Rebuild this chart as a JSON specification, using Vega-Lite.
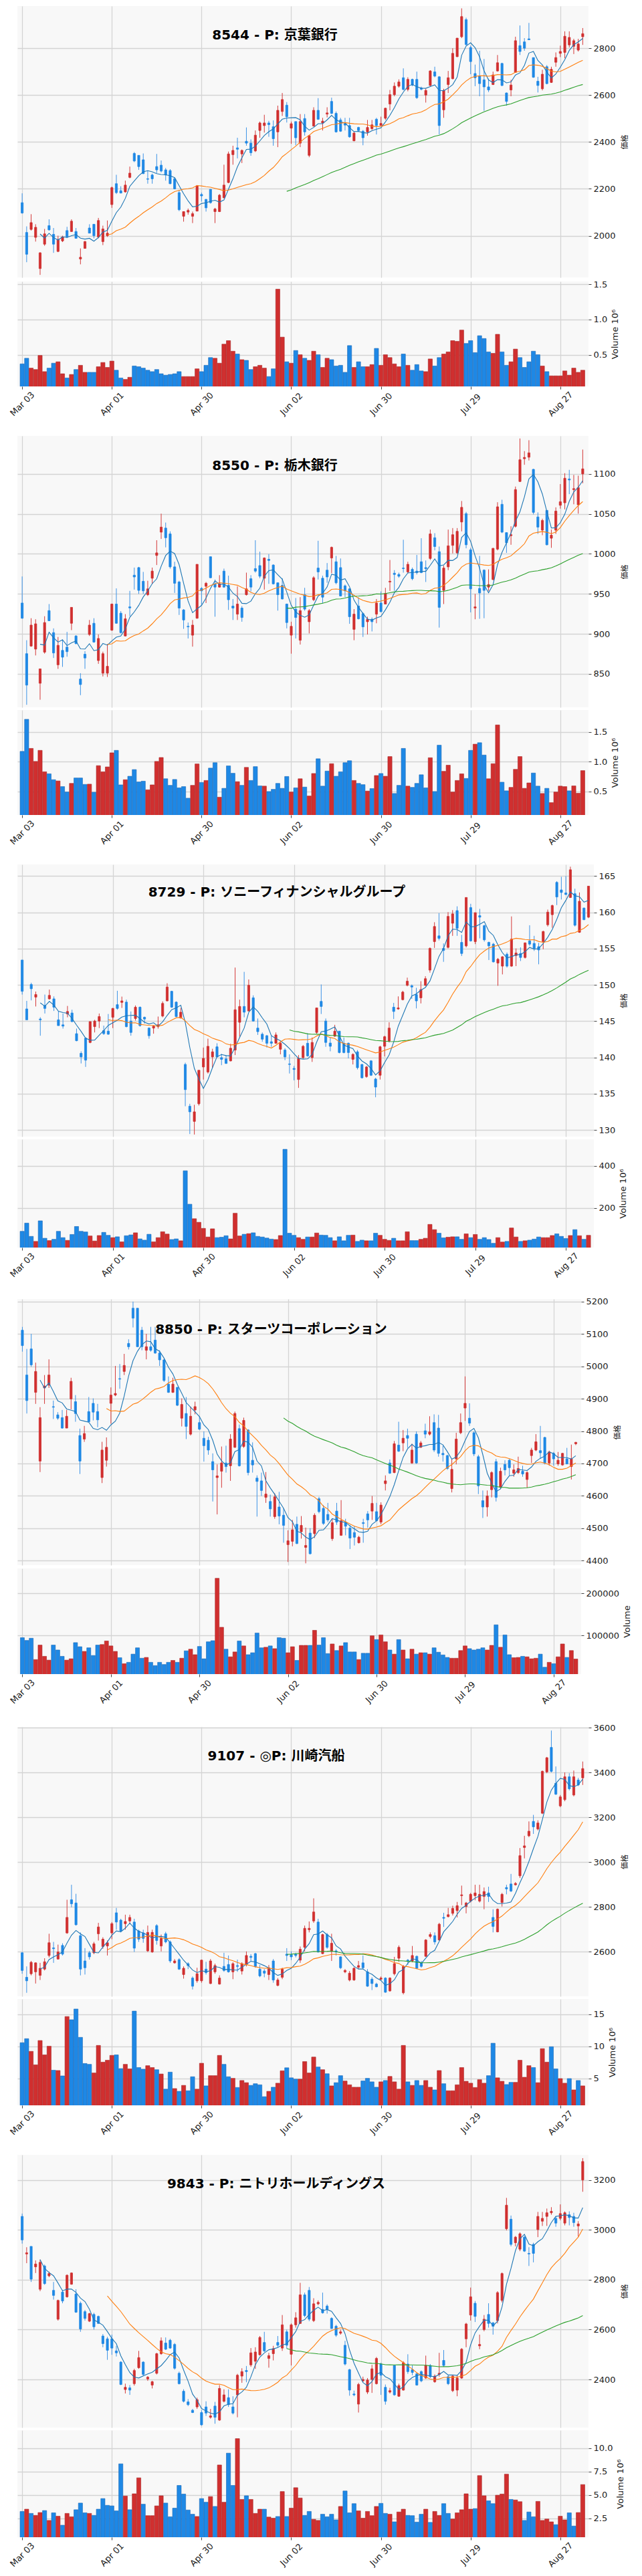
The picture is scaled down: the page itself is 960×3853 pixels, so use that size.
{
"$schema":"https://vega.github.io/schema/vega-lite/v6.json",
"background":"white",
"padding":{"left":12,"top":9,"right":0,"bottom":0},
"spacing":26,
"config":{"view":{"stroke":null,"fill":"#f8f8f8"},"font":"DejaVu Sans",
"axis":{"labelFont":"DejaVu Sans","labelFontSize":13,"labelColor":"#222","gridColor":"#d4d4d4","gridWidth":1.3,"domain":false,"tickColor":"#444","tickSize":4,"labelPadding":3,"titleFontWeight":"normal","titleColor":"#222","titleBaseline":"top"},
"title":{"font":"DejaVu Sans, Noto Sans CJK JP","fontSize":20,"fontWeight":"bold","color":"#000"}},
"datasets":{
"p8544":[
{"i":0,"o":2141,"h":2181,"l":2094,"c":2097,"v":0.37},{"i":1,"o":2014,"h":2040,"l":1887,"c":1921,"v":0.45},{"i":2,"o":2027,"h":2092,"l":2022,"c":2056,"v":0.31},{"i":3,"o":1993,"h":2049,"l":1975,"c":2036,"v":0.29},{"i":4,"o":1860,"h":1930,"l":1833,"c":1927,"v":0.49},{"i":5,"o":1964,"h":2029,"l":1957,"c":2008,"v":0.26},{"i":6,"o":2043,"h":2070,"l":2022,"c":2025,"v":0.31},{"i":7,"o":2006,"h":2033,"l":1927,"c":1964,"v":0.38},{"i":8,"o":1933,"h":2000,"l":1930,"c":1984,"v":0.40},{"i":9,"o":1978,"h":2000,"l":1973,"c":1995,"v":0.23},
{"i":10,"o":2022,"h":2038,"l":1990,"c":1995,"v":0.17},{"i":11,"o":2018,"h":2070,"l":2016,"c":2062,"v":0.22},{"i":12,"o":2018,"h":2033,"l":1989,"c":1989,"v":0.29},{"i":13,"o":1901,"h":1946,"l":1878,"c":1908,"v":0.35},{"i":14,"o":1946,"h":1978,"l":1946,"c":1975,"v":0.25},{"i":15,"o":2033,"h":2049,"l":2011,"c":2011,"v":0.25},{"i":16,"o":2049,"h":2049,"l":1989,"c":2000,"v":0.25},{"i":17,"o":1995,"h":2076,"l":1989,"c":2065,"v":0.33},{"i":18,"o":1975,"h":2043,"l":1960,"c":2029,"v":0.39},{"i":19,"o":2000,"h":2065,"l":1995,"c":2011,"v":0.32},
{"i":20,"o":2133,"h":2210,"l":2119,"c":2205,"v":0.41},{"i":21,"o":2222,"h":2260,"l":2178,"c":2184,"v":0.28},{"i":22,"o":2192,"h":2211,"l":2181,"c":2182,"v":0.17},{"i":23,"o":2187,"h":2235,"l":2184,"c":2216,"v":0.15},{"i":24,"o":2249,"h":2295,"l":2245,"c":2267,"v":0.18},{"i":25,"o":2351,"h":2357,"l":2314,"c":2319,"v":0.34},{"i":26,"o":2343,"h":2343,"l":2281,"c":2295,"v":0.33},{"i":27,"o":2324,"h":2351,"l":2263,"c":2265,"v":0.31},{"i":28,"o":2243,"h":2276,"l":2222,"c":2241,"v":0.28},{"i":29,"o":2259,"h":2265,"l":2222,"c":2243,"v":0.26},
{"i":30,"o":2295,"h":2349,"l":2267,"c":2281,"v":0.29},{"i":31,"o":2301,"h":2321,"l":2270,"c":2276,"v":0.23},{"i":32,"o":2281,"h":2289,"l":2235,"c":2259,"v":0.21},{"i":33,"o":2278,"h":2284,"l":2220,"c":2222,"v":0.22},{"i":34,"o":2243,"h":2249,"l":2198,"c":2200,"v":0.23},{"i":35,"o":2184,"h":2195,"l":2105,"c":2111,"v":0.26},{"i":36,"o":2083,"h":2103,"l":2060,"c":2103,"v":0.19},{"i":37,"o":2101,"h":2116,"l":2090,"c":2108,"v":0.19},{"i":38,"o":2083,"h":2103,"l":2054,"c":2094,"v":0.19},{"i":39,"o":2105,"h":2216,"l":2105,"c":2213,"v":0.30},
{"i":40,"o":2176,"h":2184,"l":2146,"c":2170,"v":0.26},{"i":41,"o":2155,"h":2157,"l":2103,"c":2119,"v":0.35},{"i":42,"o":2198,"h":2198,"l":2137,"c":2141,"v":0.46},{"i":43,"o":2103,"h":2119,"l":2054,"c":2114,"v":0.45},{"i":44,"o":2103,"h":2178,"l":2101,"c":2173,"v":0.38},{"i":45,"o":2162,"h":2303,"l":2159,"c":2216,"v":0.65},{"i":46,"o":2227,"h":2359,"l":2224,"c":2349,"v":0.70},{"i":47,"o":2346,"h":2384,"l":2303,"c":2364,"v":0.55},{"i":48,"o":2375,"h":2418,"l":2330,"c":2369,"v":0.51},{"i":49,"o":2349,"h":2368,"l":2310,"c":2364,"v":0.43},
{"i":50,"o":2403,"h":2462,"l":2384,"c":2395,"v":0.42},{"i":51,"o":2395,"h":2411,"l":2341,"c":2354,"v":0.29},{"i":52,"o":2362,"h":2449,"l":2357,"c":2429,"v":0.33},{"i":53,"o":2449,"h":2487,"l":2418,"c":2481,"v":0.35},{"i":54,"o":2470,"h":2516,"l":2440,"c":2481,"v":0.31},{"i":55,"o":2481,"h":2490,"l":2422,"c":2474,"v":0.19},{"i":56,"o":2465,"h":2492,"l":2384,"c":2414,"v":0.30},{"i":57,"o":2443,"h":2555,"l":2378,"c":2535,"v":1.43},{"i":58,"o":2530,"h":2609,"l":2511,"c":2581,"v":0.75},{"i":59,"o":2557,"h":2570,"l":2483,"c":2508,"v":0.40},
{"i":60,"o":2459,"h":2487,"l":2392,"c":2478,"v":0.38},{"i":61,"o":2487,"h":2487,"l":2386,"c":2418,"v":0.56},{"i":62,"o":2395,"h":2519,"l":2378,"c":2487,"v":0.50},{"i":63,"o":2500,"h":2519,"l":2427,"c":2443,"v":0.45},{"i":64,"o":2343,"h":2430,"l":2335,"c":2427,"v":0.42},{"i":65,"o":2468,"h":2548,"l":2465,"c":2535,"v":0.55},{"i":66,"o":2535,"h":2587,"l":2494,"c":2497,"v":0.50},{"i":67,"o":2481,"h":2503,"l":2449,"c":2489,"v":0.32},{"i":68,"o":2519,"h":2548,"l":2505,"c":2524,"v":0.45},{"i":69,"o":2573,"h":2589,"l":2519,"c":2522,"v":0.43},
{"i":70,"o":2522,"h":2530,"l":2440,"c":2443,"v":0.34},{"i":71,"o":2494,"h":2503,"l":2443,"c":2446,"v":0.35},{"i":72,"o":2479,"h":2503,"l":2449,"c":2472,"v":0.25},{"i":73,"o":2470,"h":2503,"l":2418,"c":2422,"v":0.63},{"i":74,"o":2405,"h":2443,"l":2403,"c":2438,"v":0.32},{"i":75,"o":2462,"h":2465,"l":2443,"c":2449,"v":0.40},{"i":76,"o":2446,"h":2451,"l":2386,"c":2418,"v":0.33},{"i":77,"o":2443,"h":2494,"l":2427,"c":2462,"v":0.33},{"i":78,"o":2457,"h":2494,"l":2451,"c":2473,"v":0.36},{"i":79,"o":2497,"h":2503,"l":2432,"c":2470,"v":0.59},
{"i":80,"o":2470,"h":2508,"l":2470,"c":2479,"v":0.35},{"i":81,"o":2501,"h":2546,"l":2494,"c":2544,"v":0.50},{"i":82,"o":2562,"h":2622,"l":2535,"c":2602,"v":0.46},{"i":83,"o":2602,"h":2654,"l":2595,"c":2638,"v":0.37},{"i":84,"o":2638,"h":2667,"l":2632,"c":2656,"v":0.33},{"i":85,"o":2674,"h":2714,"l":2620,"c":2624,"v":0.51},{"i":86,"o":2624,"h":2676,"l":2616,"c":2667,"v":0.35},{"i":87,"o":2667,"h":2670,"l":2638,"c":2643,"v":0.28},{"i":88,"o":2667,"h":2700,"l":2584,"c":2589,"v":0.36},{"i":89,"o":2630,"h":2636,"l":2620,"c":2625,"v":0.27},
{"i":90,"o":2600,"h":2627,"l":2568,"c":2620,"v":0.26},{"i":91,"o":2641,"h":2706,"l":2638,"c":2703,"v":0.44},{"i":92,"o":2699,"h":2721,"l":2676,"c":2681,"v":0.34},{"i":93,"o":2678,"h":2681,"l":2432,"c":2470,"v":0.46},{"i":94,"o":2537,"h":2627,"l":2503,"c":2620,"v":0.51},{"i":95,"o":2645,"h":2703,"l":2609,"c":2674,"v":0.54},{"i":96,"o":2670,"h":2800,"l":2667,"c":2778,"v":0.70},{"i":97,"o":2764,"h":2843,"l":2762,"c":2843,"v":0.69},{"i":98,"o":2849,"h":2970,"l":2843,"c":2935,"v":0.85},{"i":99,"o":2922,"h":2930,"l":2811,"c":2816,"v":0.66},
{"i":100,"o":2803,"h":2811,"l":2689,"c":2743,"v":0.70},{"i":101,"o":2692,"h":2730,"l":2638,"c":2674,"v":0.53},{"i":102,"o":2681,"h":2789,"l":2595,"c":2649,"v":0.77},{"i":103,"o":2665,"h":2754,"l":2533,"c":2635,"v":0.73},{"i":104,"o":2635,"h":2670,"l":2613,"c":2622,"v":0.54},{"i":105,"o":2645,"h":2700,"l":2643,"c":2686,"v":0.52},{"i":106,"o":2703,"h":2771,"l":2700,"c":2738,"v":0.79},{"i":107,"o":2735,"h":2738,"l":2638,"c":2641,"v":0.54},{"i":108,"o":2609,"h":2611,"l":2555,"c":2573,"v":0.35},{"i":109,"o":2622,"h":2665,"l":2595,"c":2643,"v":0.40},
{"i":110,"o":2697,"h":2849,"l":2695,"c":2832,"v":0.58},{"i":111,"o":2811,"h":2897,"l":2771,"c":2786,"v":0.46},{"i":112,"o":2827,"h":2843,"l":2789,"c":2800,"v":0.32},{"i":113,"o":2840,"h":2908,"l":2835,"c":2836,"v":0.40},{"i":114,"o":2760,"h":2760,"l":2674,"c":2676,"v":0.55},{"i":115,"o":2659,"h":2678,"l":2611,"c":2641,"v":0.50},{"i":116,"o":2627,"h":2708,"l":2620,"c":2689,"v":0.34},{"i":117,"o":2721,"h":2728,"l":2646,"c":2649,"v":0.26},{"i":118,"o":2654,"h":2721,"l":2652,"c":2710,"v":0.20},{"i":119,"o":2740,"h":2782,"l":2721,"c":2760,"v":0.20},
{"i":120,"o":2778,"h":2811,"l":2762,"c":2786,"v":0.20},{"i":121,"o":2782,"h":2872,"l":2757,"c":2851,"v":0.27},{"i":122,"o":2814,"h":2872,"l":2803,"c":2846,"v":0.21},{"i":123,"o":2808,"h":2840,"l":2775,"c":2832,"v":0.31},{"i":124,"o":2792,"h":2840,"l":2786,"c":2818,"v":0.25},{"i":125,"o":2849,"h":2886,"l":2814,"c":2862,"v":0.28}
],
"p8550":[
{"i":0,"o":938.6,"h":971.8,"l":919,"c":919.6,"v":1.175},{"i":1,"o":875.3,"h":892.1,"l":811.4,"c":836.0,"v":1.714},{"i":2,"o":884.8,"h":919.6,"l":884,"c":911.0,"v":1.225},{"i":3,"o":881.0,"h":918.3,"l":873.1,"c":912.6,"v":1.006},{"i":4,"o":838.3,"h":856.3,"l":817.7,"c":856.3,"v":1.192},{"i":5,"o":877.2,"h":922.1,"l":875.3,"c":914.2,"v":0.832},{"i":6,"o":929.1,"h":937.3,"l":916,"c":916.4,"v":0.798},{"i":7,"o":901.6,"h":906.9,"l":869.9,"c":876.2,"v":0.699},{"i":8,"o":861.4,"h":896.2,"l":856.3,"c":885.7,"v":0.678},{"i":9,"o":879.4,"h":893.0,"l":858.8,"c":870.9,"v":0.583},
{"i":10,"o":883.5,"h":902.5,"l":871.5,"c":877.8,"v":0.492},{"i":11,"o":913.3,"h":933.2,"l":904.7,"c":933.2,"v":0.637},{"i":12,"o":897.4,"h":898.4,"l":887,"c":887.9,"v":0.728},{"i":13,"o":843.6,"h":850.9,"l":823.4,"c":836.7,"v":0.728},{"i":14,"o":874.6,"h":878.4,"l":856.3,"c":869.9,"v":0.620},{"i":15,"o":899.3,"h":917.4,"l":897.4,"c":911.0,"v":0.624},{"i":16,"o":913.3,"h":919.6,"l":889,"c":889.8,"v":0.488},{"i":17,"o":866.7,"h":899.3,"l":862.6,"c":894.3,"v":0.935},{"i":18,"o":850.9,"h":877.8,"l":846.8,"c":875.3,"v":0.832},{"i":19,"o":850.9,"h":887.3,"l":846.2,"c":859.5,"v":0.914},
{"i":20,"o":904.7,"h":937.9,"l":903.8,"c":937.3,"v":1.151},{"i":21,"o":937.3,"h":956.9,"l":912.6,"c":913.3,"v":1.192},{"i":22,"o":925.9,"h":928.5,"l":900.6,"c":901.6,"v":0.612},{"i":23,"o":897.4,"h":924.7,"l":897,"c":918.9,"v":0.699},{"i":24,"o":933.8,"h":953.8,"l":922.1,"c":932.5,"v":0.757},{"i":25,"o":973.4,"h":982.9,"l":955.4,"c":971.2,"v":0.869},{"i":26,"o":982.9,"h":983.8,"l":950,"c":954.4,"v":0.662},{"i":27,"o":965.8,"h":977.5,"l":950,"c":953.8,"v":0.674},{"i":28,"o":949.0,"h":966.4,"l":947.4,"c":956.3,"v":0.529},{"i":29,"o":969.6,"h":982.9,"l":962.6,"c":978.5,"v":0.612},
{"i":30,"o":998.1,"h":1017.1,"l":986.1,"c":1001.3,"v":1.006},{"i":31,"o":1027.2,"h":1050.3,"l":1018.7,"c":1033.5,"v":1.072},{"i":32,"o":1032.3,"h":1039.2,"l":1008.2,"c":1020.2,"v":0.715},{"i":33,"o":1025.0,"h":1028.2,"l":981.6,"c":983.8,"v":0.604},{"i":34,"o":983.8,"h":990.2,"l":951.2,"c":963.3,"v":0.703},{"i":35,"o":964.9,"h":966.4,"l":923.7,"c":932.3,"v":0.562},{"i":36,"o":930.0,"h":931.0,"l":906.3,"c":917.4,"v":0.583},{"i":37,"o":909.5,"h":914.2,"l":894.3,"c":908.8,"v":0.388},{"i":38,"o":898.4,"h":917.4,"l":884.1,"c":911.0,"v":0.604},{"i":39,"o":919.6,"h":987.0,"l":919,"c":987.0,"v":0.964},
{"i":40,"o":956.9,"h":958.5,"l":936.4,"c":953.8,"v":0.653},{"i":41,"o":959.5,"h":964.9,"l":938.6,"c":963.3,"v":0.686},{"i":42,"o":996.5,"h":996.5,"l":969.6,"c":970.2,"v":0.894},{"i":43,"o":962.6,"h":968.0,"l":921.5,"c":958.5,"v":0.985},{"i":44,"o":958.5,"h":973.4,"l":958,"c":962.6,"v":0.405},{"i":45,"o":978.5,"h":981.6,"l":957.6,"c":958.5,"v":0.554},{"i":46,"o":960.7,"h":972.8,"l":930.0,"c":942.7,"v":0.931},{"i":47,"o":934.8,"h":943.6,"l":917.4,"c":932.3,"v":0.807},{"i":48,"o":924.7,"h":959.5,"l":917.4,"c":937.3,"v":0.666},{"i":49,"o":932.3,"h":934.8,"l":915.2,"c":920.5,"v":0.604},
{"i":50,"o":949.0,"h":976.6,"l":948,"c":956.3,"v":0.906},{"i":51,"o":969.0,"h":973.4,"l":953.1,"c":958.5,"v":0.686},{"i":52,"o":981.6,"h":1017.1,"l":976.6,"c":978.5,"v":0.919},{"i":53,"o":985.4,"h":1002.8,"l":969.6,"c":972.1,"v":0.595},{"i":54,"o":969.6,"h":995.6,"l":955.4,"c":994.9,"v":0.591},{"i":55,"o":993.3,"h":999.7,"l":962.6,"c":991.8,"v":0.500},{"i":56,"o":986.1,"h":987.0,"l":961.7,"c":962.6,"v":0.537},{"i":57,"o":963.9,"h":964,"l":929.1,"c":949.0,"v":0.637},{"i":58,"o":960.7,"h":969.6,"l":943,"c":943.7,"v":0.554},{"i":59,"o":937.3,"h":937.9,"l":906.9,"c":914.2,"v":0.753},
{"i":60,"o":898.4,"h":915.2,"l":875.3,"c":909.5,"v":0.492},{"i":61,"o":931.0,"h":944.9,"l":894.3,"c":920.5,"v":0.562},{"i":62,"o":892.1,"h":945.9,"l":886.7,"c":929.1,"v":0.715},{"i":63,"o":949.0,"h":957.6,"l":929,"c":931.0,"v":0.575},{"i":64,"o":915.2,"h":931.0,"l":900.6,"c":929.1,"v":0.425},{"i":65,"o":942.7,"h":972.1,"l":941,"c":970.2,"v":0.803},{"i":66,"o":982.3,"h":1016.4,"l":968.0,"c":977.5,"v":1.051},{"i":67,"o":969.6,"h":972.8,"l":938.0,"c":945.9,"v":0.591},{"i":68,"o":979.7,"h":988.6,"l":963.9,"c":971.2,"v":0.844},{"i":69,"o":994.9,"h":1009.2,"l":975.9,"c":1008.2,"v":0.968},
{"i":70,"o":990.2,"h":997.5,"l":962,"c":963.9,"v":0.757},{"i":71,"o":982.9,"h":994.3,"l":946.8,"c":947.4,"v":0.832},{"i":72,"o":960.1,"h":961.7,"l":945.9,"c":953.8,"v":0.985},{"i":73,"o":956.3,"h":956.9,"l":912.6,"c":921.5,"v":1.018},{"i":74,"o":905.7,"h":931.0,"l":892.1,"c":924.7,"v":0.686},{"i":75,"o":934.8,"h":945.9,"l":918,"c":918.9,"v":0.637},{"i":76,"o":925.3,"h":926.9,"l":896.2,"c":908.8,"v":0.616},{"i":77,"o":915.2,"h":921.5,"l":899.3,"c":918.3,"v":0.508},{"i":78,"o":918.3,"h":920.5,"l":903.1,"c":915.2,"v":0.550},{"i":79,"o":924.7,"h":943.6,"l":913.3,"c":938.6,"v":0.769},
{"i":80,"o":938.6,"h":953.1,"l":927,"c":927.8,"v":0.803},{"i":81,"o":937.3,"h":957.6,"l":937,"c":950.6,"v":0.757},{"i":82,"o":964.9,"h":992.4,"l":953.8,"c":965.8,"v":1.088},{"i":83,"o":975.9,"h":979.7,"l":953.8,"c":974.3,"v":0.467},{"i":84,"o":974.3,"h":976.6,"l":970.2,"c":972.1,"v":0.604},{"i":85,"o":982.3,"h":1017.7,"l":976.6,"c":981.6,"v":1.225},{"i":86,"o":977.5,"h":990.2,"l":975.9,"c":987.0,"v":0.591},{"i":87,"o":980.7,"h":982.9,"l":967.1,"c":969.0,"v":0.570},{"i":88,"o":978.5,"h":998.7,"l":974.3,"c":976.6,"v":0.637},{"i":89,"o":990.2,"h":1019.6,"l":975.9,"c":976.6,"v":0.782},
{"i":90,"o":982.9,"h":991.8,"l":964.9,"c":981.6,"v":0.562},{"i":91,"o":994.3,"h":1030.4,"l":992.4,"c":1025.0,"v":1.068},{"i":92,"o":1020.2,"h":1025.9,"l":1004.4,"c":1009.2,"v":0.500},{"i":93,"o":1002.8,"h":1009.2,"l":907.9,"c":933.2,"v":1.279},{"i":94,"o":954.4,"h":985.4,"l":937.3,"c":982.3,"v":0.840},{"i":95,"o":983.8,"h":1030.4,"l":979.7,"c":1010.1,"v":0.943},{"i":96,"o":1010.7,"h":1032.3,"l":1000.6,"c":1024.0,"v":0.492},{"i":97,"o":1001.3,"h":1032.3,"l":1000,"c":1028.2,"v":0.686},{"i":98,"o":1039.9,"h":1066.1,"l":1028.2,"c":1058.2,"v":0.798},{"i":99,"o":1050.3,"h":1052.5,"l":1007.0,"c":1011.4,"v":0.720},
{"i":100,"o":1005.1,"h":1007.6,"l":926.9,"c":956.3,"v":1.192},{"i":101,"o":932.3,"h":950.0,"l":918.3,"c":933.8,"v":1.296},{"i":102,"o":956.9,"h":997.5,"l":918.9,"c":951.2,"v":1.321},{"i":103,"o":979.7,"h":980.7,"l":919.6,"c":954.4,"v":1.113},{"i":104,"o":958.5,"h":980.7,"l":953.8,"c":961.7,"v":0.715},{"i":105,"o":968.0,"h":1007.6,"l":967,"c":1006.9,"v":0.968},{"i":106,"o":1006.0,"h":1064.6,"l":1004.4,"c":1058.9,"v":1.619},{"i":107,"o":1062.0,"h":1067.7,"l":1026,"c":1027.2,"v":0.657},{"i":108,"o":1026.6,"h":1027,"l":1001.3,"c":1013.9,"v":0.512},{"i":109,"o":1022.8,"h":1034.5,"l":1011.4,"c":1024.0,"v":0.570},
{"i":110,"o":1034.5,"h":1084.2,"l":1033,"c":1080.4,"v":0.873},{"i":111,"o":1090.5,"h":1144.3,"l":1089.9,"c":1117.7,"v":1.088},{"i":112,"o":1119.0,"h":1128.5,"l":1111.4,"c":1120.6,"v":0.554},{"i":113,"o":1120.9,"h":1142.1,"l":1116.8,"c":1126.3,"v":0.645},{"i":114,"o":1105.7,"h":1106.3,"l":1049.4,"c":1051.9,"v":0.811},{"i":115,"o":1046.2,"h":1051.9,"l":1025.0,"c":1033.5,"v":0.591},{"i":116,"o":1029.7,"h":1044.0,"l":1023.4,"c":1041.8,"v":0.467},{"i":117,"o":1054.4,"h":1054.4,"l":1010.7,"c":1011.4,"v":0.554},{"i":118,"o":1019.6,"h":1030.4,"l":1007.6,"c":1023.4,"v":0.314},{"i":119,"o":1029.7,"h":1058.2,"l":1025.0,"c":1053.5,"v":0.492},
{"i":120,"o":1060.8,"h":1087.3,"l":1056.6,"c":1065.2,"v":0.591},{"i":121,"o":1063.9,"h":1100.9,"l":1055.7,"c":1094.6,"v":0.583},{"i":122,"o":1093.7,"h":1105.1,"l":1074.7,"c":1092.4,"v":0.512},{"i":123,"o":1080.4,"h":1098.7,"l":1062.0,"c":1081.6,"v":0.595},{"i":124,"o":1061.4,"h":1097.8,"l":1050.3,"c":1082.9,"v":0.471},{"i":125,"o":1100.0,"h":1130.4,"l":1088.3,"c":1106.3,"v":0.852}
],
"p8729":[
{"i":0,"o":153.43,"h":153.43,"l":148.67,"c":149.12,"v":88},{"i":1,"o":146.69,"h":147.80,"l":145.19,"c":145.19,"v":127},{"i":2,"o":150.06,"h":150.30,"l":147.87,"c":149.47,"v":64},{"i":3,"o":148.32,"h":149.08,"l":147.03,"c":148.67,"v":40},{"i":4,"o":145.30,"h":145.54,"l":143.00,"c":145.19,"v":138},{"i":5,"o":147.17,"h":148.67,"l":146.06,"c":146.76,"v":55},{"i":6,"o":148.08,"h":149.36,"l":147.97,"c":148.56,"v":44},{"i":7,"o":148.08,"h":148.42,"l":146.41,"c":146.93,"v":50},{"i":8,"o":145.19,"h":146.34,"l":144.39,"c":144.39,"v":88},{"i":9,"o":144.50,"h":146.06,"l":143.98,"c":144.32,"v":58},
{"i":10,"o":145.99,"h":147.10,"l":145.54,"c":146.34,"v":45},{"i":11,"o":146.13,"h":146.58,"l":144.85,"c":144.95,"v":73},{"i":12,"o":143.28,"h":143.98,"l":142.24,"c":142.31,"v":111},{"i":13,"o":140.57,"h":140.85,"l":139.18,"c":140.08,"v":88},{"i":14,"o":142.66,"h":142.76,"l":138.70,"c":139.63,"v":85},{"i":15,"o":142.07,"h":144.95,"l":141.96,"c":144.95,"v":66},{"i":16,"o":144.25,"h":145.19,"l":143.45,"c":145.02,"v":42},{"i":17,"o":145.02,"h":146.06,"l":144.05,"c":145.64,"v":68},{"i":18,"o":143.70,"h":144.39,"l":143.11,"c":143.28,"v":83},{"i":19,"o":143.63,"h":145.99,"l":143.11,"c":143.21,"v":69},
{"i":20,"o":145.54,"h":146.83,"l":144.05,"c":146.76,"v":58},{"i":21,"o":147.28,"h":149.19,"l":146.58,"c":146.76,"v":62},{"i":22,"o":147.59,"h":148.39,"l":146.83,"c":147.80,"v":38},{"i":23,"o":147.63,"h":147.97,"l":144.15,"c":144.25,"v":67},{"i":24,"o":145.02,"h":146.34,"l":143.00,"c":143.45,"v":71},{"i":25,"o":145.37,"h":147.17,"l":145.09,"c":146.93,"v":81},{"i":26,"o":146.93,"h":147.03,"l":144.25,"c":144.39,"v":52},{"i":27,"o":145.54,"h":145.64,"l":144.67,"c":145.30,"v":46},{"i":28,"o":144.05,"h":144.15,"l":142.59,"c":143.00,"v":74},{"i":29,"o":144.05,"h":144.39,"l":143.28,"c":144.32,"v":38},
{"i":30,"o":144.25,"h":145.64,"l":143.98,"c":144.50,"v":58},{"i":31,"o":145.71,"h":147.73,"l":145.54,"c":147.45,"v":86},{"i":32,"o":147.80,"h":150.23,"l":147.73,"c":149.71,"v":75},{"i":33,"o":149.12,"h":149.19,"l":146.83,"c":146.93,"v":49},{"i":34,"o":147.63,"h":147.73,"l":145.54,"c":145.64,"v":52},{"i":35,"o":145.44,"h":146.83,"l":145.37,"c":146.24,"v":43},{"i":36,"o":139.04,"h":139.28,"l":133.28,"c":135.57,"v":376},{"i":37,"o":133.28,"h":133.62,"l":129.45,"c":132.51,"v":217},{"i":38,"o":131.19,"h":133.48,"l":129.38,"c":132.51,"v":148},{"i":39,"o":133.62,"h":138.24,"l":133.38,"c":138.24,"v":131},
{"i":40,"o":138.69,"h":141.37,"l":136.96,"c":139.88,"v":102},{"i":41,"o":138.00,"h":142.59,"l":137.79,"c":141.54,"v":61},{"i":42,"o":140.08,"h":141.20,"l":138.59,"c":140.78,"v":100},{"i":43,"o":141.47,"h":141.96,"l":140.00,"c":140.08,"v":58},{"i":44,"o":139.98,"h":140.50,"l":138.94,"c":139.74,"v":60},{"i":45,"o":139.81,"h":140.33,"l":139.11,"c":139.18,"v":67},{"i":46,"o":139.53,"h":141.89,"l":139.46,"c":141.27,"v":52},{"i":47,"o":141.02,"h":152.39,"l":140.33,"c":146.58,"v":174},{"i":48,"o":144.85,"h":147.97,"l":142.86,"c":147.03,"v":66},{"i":49,"o":147.03,"h":151.80,"l":145.54,"c":146.24,"v":74},
{"i":50,"o":146.41,"h":150.75,"l":146.34,"c":149.95,"v":77},{"i":51,"o":148.22,"h":148.56,"l":144.95,"c":145.02,"v":81},{"i":52,"o":144.05,"h":145.37,"l":143.11,"c":143.56,"v":64},{"i":53,"o":143.21,"h":143.45,"l":142.17,"c":142.52,"v":61},{"i":54,"o":143.00,"h":143.11,"l":141.37,"c":141.96,"v":56},{"i":55,"o":142.17,"h":143.00,"l":141.47,"c":141.96,"v":51},{"i":56,"o":141.96,"h":143.45,"l":141.89,"c":143.11,"v":49},{"i":57,"o":141.13,"h":142.24,"l":140.43,"c":141.96,"v":68},{"i":58,"o":141.02,"h":141.27,"l":139.63,"c":140.08,"v":478},{"i":59,"o":139.11,"h":140.43,"l":137.79,"c":139.04,"v":79},
{"i":60,"o":138.49,"h":138.83,"l":136.85,"c":138.35,"v":69},{"i":61,"o":136.96,"h":140.33,"l":135.81,"c":139.88,"v":58},{"i":62,"o":139.98,"h":141.72,"l":139.80,"c":141.54,"v":50},{"i":63,"o":141.96,"h":143.35,"l":140.10,"c":140.22,"v":61},{"i":64,"o":139.98,"h":142.76,"l":139.39,"c":142.07,"v":61},{"i":65,"o":143.45,"h":146.83,"l":143.28,"c":146.83,"v":80},{"i":66,"o":147.73,"h":150.06,"l":145.99,"c":147.03,"v":70},{"i":67,"o":145.02,"h":145.37,"l":141.47,"c":142.07,"v":69},{"i":68,"o":141.99,"h":142.76,"l":140.85,"c":141.54,"v":58},{"i":69,"o":142.93,"h":144.50,"l":142.86,"c":143.63,"v":43},
{"i":70,"o":143.63,"h":143.63,"l":140.57,"c":140.68,"v":62},{"i":71,"o":141.96,"h":142.76,"l":140.57,"c":140.68,"v":43},{"i":72,"o":141.96,"h":142.07,"l":139.88,"c":140.68,"v":69},{"i":73,"o":139.74,"h":140.57,"l":139.04,"c":140.43,"v":70},{"i":74,"o":140.78,"h":141.02,"l":138.35,"c":138.59,"v":40},{"i":75,"o":139.04,"h":139.11,"l":137.10,"c":137.20,"v":46},{"i":76,"o":137.37,"h":138.83,"l":137.20,"c":138.69,"v":43},{"i":77,"o":139.53,"h":139.63,"l":137.45,"c":137.55,"v":43},{"i":78,"o":137.03,"h":137.20,"l":134.52,"c":135.92,"v":79},{"i":79,"o":137.55,"h":141.61,"l":136.96,"c":141.47,"v":69},
{"i":80,"o":141.54,"h":143.00,"l":140.15,"c":142.86,"v":50},{"i":81,"o":142.24,"h":144.85,"l":142.07,"c":144.05,"v":45},{"i":82,"o":146.93,"h":147.52,"l":145.30,"c":146.34,"v":55},{"i":83,"o":146.69,"h":148.42,"l":146.58,"c":146.83,"v":43},{"i":84,"o":147.97,"h":149.19,"l":147.87,"c":149.01,"v":43},{"i":85,"o":149.95,"h":151.00,"l":149.81,"c":150.51,"v":86},{"i":86,"o":149.88,"h":150.06,"l":148.08,"c":149.71,"v":44},{"i":87,"o":148.67,"h":149.60,"l":146.76,"c":147.80,"v":44},{"i":88,"o":148.22,"h":150.51,"l":147.45,"c":149.36,"v":50},{"i":89,"o":149.95,"h":151.20,"l":149.81,"c":150.86,"v":55},
{"i":90,"o":152.04,"h":155.17,"l":151.69,"c":155.03,"v":121},{"i":91,"o":155.97,"h":158.64,"l":155.10,"c":158.05,"v":96},{"i":92,"o":156.76,"h":159.89,"l":156.14,"c":156.42,"v":79},{"i":93,"o":155.03,"h":155.72,"l":153.18,"c":154.75,"v":57},{"i":94,"o":155.17,"h":160.03,"l":155.03,"c":159.44,"v":60},{"i":95,"o":158.50,"h":160.31,"l":156.76,"c":159.79,"v":62},{"i":96,"o":160.24,"h":160.83,"l":156.76,"c":157.81,"v":62},{"i":97,"o":155.86,"h":156.90,"l":153.98,"c":154.33,"v":50},{"i":98,"o":155.38,"h":162.05,"l":155.17,"c":162.05,"v":76},{"i":99,"o":160.66,"h":161.18,"l":155.97,"c":156.07,"v":58},
{"i":100,"o":155.97,"h":159.96,"l":155.62,"c":159.96,"v":73},{"i":101,"o":159.54,"h":160.48,"l":156.42,"c":159.34,"v":50},{"i":102,"o":158.16,"h":158.29,"l":155.97,"c":156.21,"v":58},{"i":103,"o":155.86,"h":155.97,"l":153.43,"c":155.38,"v":49},{"i":104,"o":155.62,"h":155.79,"l":153.08,"c":153.18,"v":31},{"i":105,"o":153.01,"h":153.71,"l":149.88,"c":153.53,"v":58},{"i":106,"o":152.59,"h":153.95,"l":151.45,"c":153.88,"v":37},{"i":107,"o":154.23,"h":154.47,"l":152.39,"c":152.59,"v":40},{"i":108,"o":152.59,"h":159.44,"l":152.49,"c":156.31,"v":104},{"i":109,"o":154.05,"h":155.03,"l":152.59,"c":154.40,"v":61},
{"i":110,"o":154.33,"h":155.17,"l":153.29,"c":153.78,"v":40},{"i":111,"o":153.78,"h":155.86,"l":153.64,"c":155.79,"v":43},{"i":112,"o":156.07,"h":158.22,"l":155.38,"c":155.62,"v":46},{"i":113,"o":155.72,"h":156.76,"l":154.68,"c":155.03,"v":51},{"i":114,"o":155.27,"h":155.79,"l":152.84,"c":154.82,"v":61},{"i":115,"o":155.97,"h":157.46,"l":154.92,"c":157.36,"v":58},{"i":116,"o":158.29,"h":160.38,"l":158.05,"c":160.03,"v":58},{"i":117,"o":159.68,"h":161.07,"l":157.88,"c":160.93,"v":68},{"i":118,"o":164.13,"h":164.30,"l":161.00,"c":162.12,"v":76},{"i":119,"o":163.09,"h":164.90,"l":161.77,"c":162.74,"v":64},
{"i":120,"o":162.67,"h":165.00,"l":162.39,"c":162.46,"v":54},{"i":121,"o":162.05,"h":166.29,"l":161.98,"c":165.87,"v":68},{"i":122,"o":162.57,"h":163.26,"l":158.05,"c":158.22,"v":96},{"i":123,"o":157.25,"h":162.74,"l":157.18,"c":161.53,"v":67},{"i":124,"o":160.59,"h":160.66,"l":158.92,"c":158.99,"v":50},{"i":125,"o":159.34,"h":163.61,"l":159.20,"c":163.61,"v":69}
],
"p8850":[
{"i":0,"o":5111.7,"h":5121.9,"l":5045.4,"c":5064.1,"v":94800},{"i":1,"o":4973.2,"h":5053.9,"l":4854.4,"c":4894.3,"v":88300},{"i":2,"o":5053.9,"h":5100.6,"l":4998.7,"c":5004.7,"v":93500},{"i":3,"o":4919.7,"h":5011.5,"l":4884.1,"c":4984.3,"v":42900},{"i":4,"o":4707.4,"h":4873.9,"l":4673.5,"c":4841.6,"v":77300},{"i":5,"o":4933.3,"h":4973.2,"l":4884.1,"c":4939.3,"v":50600},{"i":6,"o":4941.8,"h":5021.7,"l":4933.3,"c":4973.2,"v":41600},{"i":7,"o":4875.6,"h":4894.3,"l":4837.4,"c":4873.9,"v":77300},{"i":8,"o":4850.1,"h":4858.6,"l":4834.8,"c":4839.9,"v":65600},{"i":9,"o":4841.6,"h":4865.4,"l":4807.6,"c":4809.3,"v":50600},
{"i":10,"o":4809.3,"h":4865.4,"l":4809.3,"c":4845.9,"v":41600},{"i":11,"o":4899.4,"h":4964.8,"l":4867.1,"c":4953.7,"v":44800},{"i":12,"o":4890.9,"h":4911.3,"l":4828.9,"c":4854.4,"v":83100},{"i":13,"o":4786.4,"h":4807.6,"l":4667.5,"c":4707.4,"v":73400},{"i":14,"o":4775.4,"h":4816.1,"l":4766.9,"c":4792.4,"v":62300},{"i":15,"o":4860.3,"h":4905.3,"l":4828.9,"c":4828.9,"v":70800},{"i":16,"o":4885.8,"h":4901.1,"l":4833.1,"c":4858.6,"v":52600},{"i":17,"o":4860.3,"h":4884.1,"l":4811.9,"c":4834.8,"v":77300},{"i":18,"o":4656.5,"h":4766.9,"l":4639.5,"c":4741.4,"v":78600},{"i":19,"o":4709.9,"h":4780.5,"l":4690.4,"c":4749.9,"v":87000},
{"i":20,"o":4885.8,"h":4935.0,"l":4822.9,"c":4911.3,"v":75300},{"i":21,"o":4911.3,"h":5001.3,"l":4907.9,"c":4916.3,"v":62300},{"i":22,"o":4962.2,"h":5007.2,"l":4930.8,"c":4960.5,"v":47400},{"i":23,"o":4984.3,"h":5038.6,"l":4973.2,"c":5002.9,"v":33100},{"i":24,"o":5070.9,"h":5083.6,"l":5052.2,"c":5060.7,"v":36400},{"i":25,"o":5179.6,"h":5200.0,"l":5120.2,"c":5149.0,"v":55800},{"i":26,"o":5179.6,"h":5179.6,"l":5060.7,"c":5060.7,"v":70800},{"i":27,"o":5111.7,"h":5121.9,"l":5049.7,"c":5060.7,"v":46100},{"i":28,"o":5049.7,"h":5100.6,"l":5021.7,"c":5060.7,"v":48000},{"i":29,"o":5060.7,"h":5121.9,"l":5045.4,"c":5049.7,"v":36400},
{"i":30,"o":5081.1,"h":5121.9,"l":5038.6,"c":5041.2,"v":28600},{"i":31,"o":5041.2,"h":5049.7,"l":5001.3,"c":5020.0,"v":36400},{"i":32,"o":5020.0,"h":5024.2,"l":4952.0,"c":4956.3,"v":31200},{"i":33,"o":4945.2,"h":4969.0,"l":4918.0,"c":4919.7,"v":36400},{"i":34,"o":4919.7,"h":4964.8,"l":4918.0,"c":4945.2,"v":40900},{"i":35,"o":4935.0,"h":4936.7,"l":4877.3,"c":4879.8,"v":36400},{"i":36,"o":4839.9,"h":4901.1,"l":4814.4,"c":4882.4,"v":46100},{"i":37,"o":4854.4,"h":4905.3,"l":4775.4,"c":4814.4,"v":63600},{"i":38,"o":4790.6,"h":4875.6,"l":4786.4,"c":4845.9,"v":67500},{"i":39,"o":4865.4,"h":4890.9,"l":4851.8,"c":4875.6,"v":54500},
{"i":40,"o":4826.3,"h":4845.9,"l":4803.4,"c":4805.9,"v":74000},{"i":41,"o":4777.9,"h":4799.2,"l":4705.7,"c":4755.0,"v":44800},{"i":42,"o":4771.9,"h":4782.2,"l":4726.9,"c":4741.4,"v":85100},{"i":43,"o":4705.7,"h":4731.2,"l":4582.6,"c":4680.3,"v":87700},{"i":44,"o":4656.5,"h":4697.2,"l":4542.7,"c":4661.6,"v":235700},{"i":45,"o":4676.0,"h":4752.4,"l":4625.0,"c":4701.5,"v":119500},{"i":46,"o":4701.5,"h":4754.9,"l":4671.8,"c":4690.4,"v":67500},{"i":47,"o":4693.0,"h":4790.6,"l":4646.3,"c":4775.4,"v":49400},{"i":48,"o":4749.9,"h":4860.3,"l":4748.2,"c":4854.4,"v":61000},{"i":49,"o":4807.6,"h":4820.4,"l":4690.4,"c":4693.0,"v":87000},
{"i":50,"o":4752.4,"h":4841.6,"l":4748.2,"c":4833.1,"v":75300},{"i":51,"o":4803.4,"h":4805.9,"l":4663.3,"c":4671.8,"v":54500},{"i":52,"o":4709.9,"h":4765.2,"l":4671.8,"c":4695.5,"v":59100},{"i":53,"o":4654.8,"h":4663.3,"l":4535.9,"c":4644.6,"v":105800},{"i":54,"o":4646.3,"h":4671.8,"l":4599.6,"c":4616.6,"v":70800},{"i":55,"o":4595.3,"h":4673.5,"l":4578.3,"c":4605.5,"v":72100},{"i":56,"o":4582.6,"h":4603.8,"l":4535.9,"c":4559.7,"v":75300},{"i":57,"o":4535.9,"h":4608.1,"l":4529.1,"c":4597.0,"v":68800},{"i":58,"o":4565.6,"h":4612.3,"l":4512.1,"c":4537.6,"v":94800},{"i":59,"o":4540.1,"h":4561.4,"l":4455.2,"c":4508.7,"v":93500},
{"i":60,"o":4449.3,"h":4493.4,"l":4395.8,"c":4461.1,"v":59100},{"i":61,"o":4459.5,"h":4525.7,"l":4444.2,"c":4495.1,"v":73400},{"i":62,"o":4512.1,"h":4535.9,"l":4450.9,"c":4452.7,"v":40900},{"i":63,"o":4489.2,"h":4537.6,"l":4467.9,"c":4508.7,"v":76600},{"i":64,"o":4440.8,"h":4501.9,"l":4391.5,"c":4446.7,"v":76600},{"i":65,"o":4484.9,"h":4500.2,"l":4418.7,"c":4421.2,"v":76600},{"i":66,"o":4483.2,"h":4546.1,"l":4469.6,"c":4540.1,"v":112300},{"i":67,"o":4591.1,"h":4597.0,"l":4546.1,"c":4551.2,"v":77300},{"i":68,"o":4561.4,"h":4571.5,"l":4510.4,"c":4514.6,"v":94800},{"i":69,"o":4542.7,"h":4578.3,"l":4518.9,"c":4525.7,"v":57100},
{"i":70,"o":4467.9,"h":4529.1,"l":4461.1,"c":4517.2,"v":79900},{"i":71,"o":4552.9,"h":4578.3,"l":4510.4,"c":4518.9,"v":64300},{"i":72,"o":4478.1,"h":4586.8,"l":4476.4,"c":4523.1,"v":75300},{"i":73,"o":4517.2,"h":4529.1,"l":4478.1,"c":4506.2,"v":83100},{"i":74,"o":4500.2,"h":4510.4,"l":4435.7,"c":4469.6,"v":61000},{"i":75,"o":4486.6,"h":4506.2,"l":4446.7,"c":4472.2,"v":61000},{"i":76,"o":4455.2,"h":4476.4,"l":4452.7,"c":4472.2,"v":42900},{"i":77,"o":4517.2,"h":4529.1,"l":4455.2,"c":4514.6,"v":57800},{"i":78,"o":4544.4,"h":4552.9,"l":4501.9,"c":4525.7,"v":57800},{"i":79,"o":4552.9,"h":4599.6,"l":4525.7,"c":4576.6,"v":99400},
{"i":80,"o":4551.2,"h":4578.3,"l":4523.1,"c":4523.1,"v":90300},{"i":81,"o":4518.9,"h":4580.0,"l":4512.1,"c":4571.5,"v":101300},{"i":82,"o":4637.8,"h":4663.3,"l":4616.6,"c":4646.3,"v":85100},{"i":83,"o":4701.5,"h":4712.5,"l":4667.5,"c":4670.1,"v":65600},{"i":84,"o":4671.8,"h":4769.4,"l":4670.1,"c":4760.9,"v":55800},{"i":85,"o":4756.7,"h":4828.9,"l":4735.5,"c":4738.0,"v":90300},{"i":86,"o":4763.5,"h":4803.4,"l":4738.0,"c":4777.9,"v":65600},{"i":87,"o":4786.4,"h":4807.6,"l":4748.2,"c":4777.9,"v":44800},{"i":88,"o":4701.5,"h":4760.9,"l":4698.9,"c":4741.4,"v":67500},{"i":89,"o":4790.6,"h":4799.2,"l":4698.9,"c":4701.5,"v":55800},
{"i":90,"o":4749.9,"h":4769.4,"l":4748.2,"c":4763.5,"v":59100},{"i":91,"o":4800.9,"h":4822.9,"l":4777.9,"c":4790.6,"v":59100},{"i":92,"o":4790.6,"h":4845.9,"l":4786.4,"c":4797.5,"v":55800},{"i":93,"o":4826.3,"h":4851.8,"l":4735.5,"c":4741.4,"v":70800},{"i":94,"o":4809.3,"h":4850.1,"l":4721.0,"c":4731.2,"v":60400},{"i":95,"o":4731.2,"h":4754.9,"l":4705.7,"c":4726.9,"v":53900},{"i":96,"o":4724.4,"h":4726.9,"l":4680.3,"c":4684.5,"v":48000},{"i":97,"o":4622.5,"h":4714.2,"l":4610.6,"c":4681.9,"v":46100},{"i":98,"o":4714.2,"h":4794.9,"l":4697.2,"c":4775.4,"v":46100},{"i":99,"o":4794.9,"h":4854.4,"l":4790.6,"c":4826.3,"v":64300},
{"i":100,"o":4871.3,"h":4969.0,"l":4831.4,"c":4885.8,"v":75300},{"i":101,"o":4839.9,"h":4885.8,"l":4816.1,"c":4824.6,"v":68800},{"i":102,"o":4794.9,"h":4799.2,"l":4722.7,"c":4729.5,"v":65600},{"i":103,"o":4721.0,"h":4726.9,"l":4605.5,"c":4631.0,"v":67500},{"i":104,"o":4585.1,"h":4616.6,"l":4531.6,"c":4565.6,"v":70800},{"i":105,"o":4565.6,"h":4616.6,"l":4535.9,"c":4599.6,"v":65600},{"i":106,"o":4619.1,"h":4676.0,"l":4595.3,"c":4671.8,"v":76600},{"i":107,"o":4705.7,"h":4714.2,"l":4582.6,"c":4595.3,"v":125300},{"i":108,"o":4627.6,"h":4687.0,"l":4620.8,"c":4676.0,"v":72100},{"i":109,"o":4697.2,"h":4710.0,"l":4663.3,"c":4680.3,"v":101300},
{"i":110,"o":4710.0,"h":4714.2,"l":4663.3,"c":4687.0,"v":54500},{"i":111,"o":4670.1,"h":4697.2,"l":4659.0,"c":4680.3,"v":47400},{"i":112,"o":4671.8,"h":4721.0,"l":4667.5,"c":4684.5,"v":48000},{"i":113,"o":4676.0,"h":4693.0,"l":4659.0,"c":4667.5,"v":50600},{"i":114,"o":4650.5,"h":4676.0,"l":4625.0,"c":4671.8,"v":49400},{"i":115,"o":4724.4,"h":4748.2,"l":4701.5,"c":4741.4,"v":44800},{"i":116,"o":4741.4,"h":4790.6,"l":4738.0,"c":4766.9,"v":46100},{"i":117,"o":4739.7,"h":4816.1,"l":4714.2,"c":4732.9,"v":55800},{"i":118,"o":4780.5,"h":4782.2,"l":4697.2,"c":4701.5,"v":24700},{"i":119,"o":4701.5,"h":4739.7,"l":4693.0,"c":4735.5,"v":36400},
{"i":120,"o":4731.2,"h":4735.5,"l":4693.0,"c":4714.2,"v":33100},{"i":121,"o":4698.9,"h":4735.5,"l":4693.0,"c":4710.0,"v":49400},{"i":122,"o":4695.5,"h":4732.9,"l":4693.0,"c":4731.2,"v":79900},{"i":123,"o":4714.2,"h":4748.2,"l":4697.2,"c":4698.9,"v":48000},{"i":124,"o":4690.4,"h":4758.4,"l":4650.5,"c":4714.2,"v":64300},{"i":125,"o":4760.9,"h":4766.9,"l":4756.7,"c":4765.2,"v":44200}
],
"p9107":[
{"i":0,"o":2595.5,"h":2599.2,"l":2502.0,"c":2516.6,"v":10.57},{"i":1,"o":2486.2,"h":2534.8,"l":2416.9,"c":2470.4,"v":11.20},{"i":2,"o":2502.0,"h":2559.1,"l":2494.7,"c":2553.0,"v":9.22},{"i":3,"o":2510.5,"h":2553.0,"l":2458.3,"c":2550.6,"v":7.11},{"i":4,"o":2494.7,"h":2550.6,"l":2474.0,"c":2526.3,"v":10.91},{"i":5,"o":2522.6,"h":2571.2,"l":2516.6,"c":2555.4,"v":8.67},{"i":6,"o":2583.4,"h":2680.5,"l":2574.9,"c":2640.4,"v":10.02},{"i":7,"o":2617.4,"h":2644.1,"l":2550.6,"c":2613.7,"v":6.27},{"i":8,"o":2567.6,"h":2632.0,"l":2565.1,"c":2599.2,"v":6.22},{"i":9,"o":2628.3,"h":2638.0,"l":2583.4,"c":2589.4,"v":5.38},
{"i":10,"o":2684.2,"h":2832.4,"l":2680.5,"c":2753.4,"v":14.66},{"i":11,"o":2832.4,"h":2899.2,"l":2798.4,"c":2814.2,"v":14.16},{"i":12,"o":2817.9,"h":2858.8,"l":2716.9,"c":2720.6,"v":15.84},{"i":13,"o":2672.0,"h":2686.6,"l":2494.7,"c":2522.6,"v":11.41},{"i":14,"o":2559.1,"h":2616.2,"l":2498.3,"c":2528.7,"v":7.32},{"i":15,"o":2595.5,"h":2604.0,"l":2565.1,"c":2577.3,"v":7.19},{"i":16,"o":2595.5,"h":2644.1,"l":2589.4,"c":2635.6,"v":5.84},{"i":17,"o":2680.5,"h":2729.1,"l":2650.2,"c":2710.8,"v":10.15},{"i":18,"o":2623.5,"h":2664.7,"l":2613.7,"c":2656.2,"v":7.53},{"i":19,"o":2625.9,"h":2650.2,"l":2583.4,"c":2640.4,"v":7.83},
{"i":20,"o":2684.2,"h":2732.8,"l":2656.2,"c":2725.5,"v":8.59},{"i":21,"o":2774.1,"h":2795.9,"l":2698.7,"c":2732.8,"v":8.67},{"i":22,"o":2741.3,"h":2747.4,"l":2686.6,"c":2692.7,"v":6.52},{"i":23,"o":2725.5,"h":2765.6,"l":2698.7,"c":2735.3,"v":7.19},{"i":24,"o":2737.7,"h":2765.6,"l":2723.1,"c":2753.4,"v":6.48},{"i":25,"o":2732.8,"h":2747.4,"l":2599.2,"c":2616.2,"v":15.51},{"i":26,"o":2692.7,"h":2698.7,"l":2644.1,"c":2656.2,"v":6.69},{"i":27,"o":2684.2,"h":2698.7,"l":2640.4,"c":2659.8,"v":6.43},{"i":28,"o":2604.0,"h":2717.0,"l":2599.2,"c":2686.6,"v":6.98},{"i":29,"o":2599.2,"h":2698.7,"l":2595.5,"c":2686.6,"v":6.69},
{"i":30,"o":2717.0,"h":2723.1,"l":2632.0,"c":2650.2,"v":6.35},{"i":31,"o":2625.9,"h":2676.9,"l":2601.6,"c":2659.8,"v":5.68},{"i":32,"o":2680.5,"h":2689.0,"l":2638.0,"c":2644.1,"v":3.31},{"i":33,"o":2644.1,"h":2650.2,"l":2550.6,"c":2559.1,"v":5.97},{"i":34,"o":2550.6,"h":2567.6,"l":2546.9,"c":2559.1,"v":3.40},{"i":35,"o":2565.1,"h":2571.2,"l":2519.0,"c":2522.6,"v":2.97},{"i":36,"o":2498.3,"h":2534.8,"l":2480.1,"c":2526.3,"v":3.90},{"i":37,"o":2546.9,"h":2553.0,"l":2522.6,"c":2538.4,"v":3.06},{"i":38,"o":2482.6,"h":2489.8,"l":2431.6,"c":2446.2,"v":5.25},{"i":39,"o":2470.4,"h":2528.7,"l":2461.9,"c":2502.0,"v":3.31},
{"i":40,"o":2470.4,"h":2565.1,"l":2461.9,"c":2562.7,"v":7.36},{"i":41,"o":2522.6,"h":2555.4,"l":2498.3,"c":2506.8,"v":3.82},{"i":42,"o":2458.3,"h":2567.6,"l":2455.8,"c":2559.1,"v":5.42},{"i":43,"o":2510.5,"h":2546.9,"l":2502.0,"c":2538.4,"v":5.42},{"i":44,"o":2455.8,"h":2494.7,"l":2453.4,"c":2482.6,"v":8.59},{"i":45,"o":2534.8,"h":2595.5,"l":2510.5,"c":2516.6,"v":7.19},{"i":46,"o":2543.3,"h":2583.4,"l":2506.8,"c":2510.5,"v":5.25},{"i":47,"o":2510.5,"h":2553.0,"l":2477.7,"c":2546.9,"v":5.00},{"i":48,"o":2538.4,"h":2565.1,"l":2510.5,"c":2534.8,"v":3.57},{"i":49,"o":2514.1,"h":2553.0,"l":2498.3,"c":2546.9,"v":4.66},
{"i":50,"o":2543.3,"h":2601.6,"l":2534.8,"c":2583.4,"v":4.32},{"i":51,"o":2579.7,"h":2589.4,"l":2559.1,"c":2574.9,"v":3.90},{"i":52,"o":2591.8,"h":2595.5,"l":2528.7,"c":2534.8,"v":4.16},{"i":53,"o":2522.6,"h":2540.8,"l":2486.2,"c":2492.3,"v":3.99},{"i":54,"o":2514.1,"h":2522.6,"l":2486.2,"c":2504.4,"v":2.13},{"i":55,"o":2498.3,"h":2540.8,"l":2474.0,"c":2528.7,"v":2.97},{"i":56,"o":2559.1,"h":2567.6,"l":2461.9,"c":2474.0,"v":3.61},{"i":57,"o":2449.8,"h":2482.6,"l":2446.2,"c":2474.0,"v":4.24},{"i":58,"o":2486.2,"h":2528.7,"l":2477.7,"c":2522.6,"v":6.18},{"i":59,"o":2589.4,"h":2616.2,"l":2559.1,"c":2583.4,"v":6.65},
{"i":60,"o":2587.0,"h":2601.6,"l":2562.7,"c":2577.3,"v":5.08},{"i":61,"o":2589.4,"h":2595.5,"l":2574.9,"c":2583.4,"v":4.87},{"i":62,"o":2562.7,"h":2623.5,"l":2550.6,"c":2611.3,"v":4.87},{"i":63,"o":2619.8,"h":2717.0,"l":2601.6,"c":2704.8,"v":7.62},{"i":64,"o":2698.7,"h":2735.3,"l":2686.6,"c":2704.8,"v":5.84},{"i":65,"o":2737.7,"h":2838.5,"l":2729.1,"c":2777.7,"v":8.33},{"i":66,"o":2732.8,"h":2747.4,"l":2595.5,"c":2599.2,"v":6.77},{"i":67,"o":2591.8,"h":2680.5,"l":2589.4,"c":2676.9,"v":6.35},{"i":68,"o":2676.9,"h":2684.2,"l":2613.7,"c":2619.8,"v":5.72},{"i":69,"o":2601.6,"h":2680.5,"l":2559.1,"c":2638.0,"v":3.82},
{"i":70,"o":2604.0,"h":2611.3,"l":2583.4,"c":2599.2,"v":4.32},{"i":71,"o":2577.3,"h":2579.7,"l":2522.6,"c":2528.7,"v":5.42},{"i":72,"o":2510.5,"h":2522.6,"l":2504.4,"c":2516.6,"v":4.58},{"i":73,"o":2474.0,"h":2514.1,"l":2467.9,"c":2504.4,"v":3.99},{"i":74,"o":2474.0,"h":2531.1,"l":2470.4,"c":2526.3,"v":3.61},{"i":75,"o":2531.1,"h":2559.1,"l":2522.6,"c":2538.4,"v":3.61},{"i":76,"o":2550.6,"h":2583.4,"l":2522.6,"c":2528.7,"v":4.6},{"i":77,"o":2510.5,"h":2522.6,"l":2443.7,"c":2446.2,"v":5.00},{"i":78,"o":2477.7,"h":2486.2,"l":2429.1,"c":2458.3,"v":4.45},{"i":79,"o":2455.8,"h":2461.9,"l":2441.3,"c":2443.7,"v":3.61},
{"i":80,"o":2477.7,"h":2489.8,"l":2474.0,"c":2482.6,"v":4.45},{"i":81,"o":2482.6,"h":2486.2,"l":2416.9,"c":2419.4,"v":4.66},{"i":82,"o":2425.5,"h":2486.2,"l":2421.8,"c":2482.6,"v":5.30},{"i":83,"o":2502.0,"h":2577.3,"l":2494.7,"c":2547.0,"v":4.45},{"i":84,"o":2571.2,"h":2628.3,"l":2555.4,"c":2619.8,"v":3.31},{"i":85,"o":2416.9,"h":2540.8,"l":2409.6,"c":2534.8,"v":10.15},{"i":86,"o":2562.7,"h":2567.6,"l":2540.8,"c":2559.1,"v":4.45},{"i":87,"o":2559.1,"h":2625.9,"l":2553.0,"c":2583.4,"v":3.90},{"i":88,"o":2579.7,"h":2583.4,"l":2522.6,"c":2526.3,"v":4.66},{"i":89,"o":2550.6,"h":2559.1,"l":2528.7,"c":2534.8,"v":3.90},
{"i":90,"o":2579.7,"h":2656.2,"l":2577.3,"c":2652.6,"v":4.66},{"i":91,"o":2668.4,"h":2686.6,"l":2659.8,"c":2676.9,"v":3.61},{"i":92,"o":2672.0,"h":2686.6,"l":2632.0,"c":2644.1,"v":3.19},{"i":93,"o":2652.6,"h":2729.1,"l":2650.2,"c":2723.1,"v":6.22},{"i":94,"o":2753.4,"h":2774.1,"l":2710.8,"c":2749.8,"v":4.16},{"i":95,"o":2757.1,"h":2795.9,"l":2753.4,"c":2765.6,"v":3.06},{"i":96,"o":2771.6,"h":2805.7,"l":2761.9,"c":2793.5,"v":3.06},{"i":97,"o":2783.7,"h":2822.6,"l":2753.4,"c":2805.7,"v":3.99},{"i":98,"o":2850.6,"h":2895.5,"l":2808.1,"c":2854.2,"v":6.69},{"i":99,"o":2801.9,"h":2822.6,"l":2771.6,"c":2817.9,"v":4.54},
{"i":100,"o":2826.3,"h":2862.7,"l":2820.2,"c":2856.6,"v":4.24},{"i":101,"o":2850.6,"h":2899.2,"l":2829.9,"c":2862.7,"v":3.57},{"i":102,"o":2826.3,"h":2899.2,"l":2820.2,"c":2856.6,"v":4.79},{"i":103,"o":2846.9,"h":2887.0,"l":2789.9,"c":2868.8,"v":4.24},{"i":104,"o":2862.7,"h":2890.6,"l":2822.6,"c":2846.9,"v":5.42},{"i":105,"o":2753.4,"h":2789.9,"l":2686.6,"c":2713.3,"v":10.49},{"i":106,"o":2689.0,"h":2793.5,"l":2686.6,"c":2789.9,"v":5.08},{"i":107,"o":2820.2,"h":2862.7,"l":2802.0,"c":2856.6,"v":4.54},{"i":108,"o":2887.0,"h":2899.2,"l":2856.6,"c":2880.9,"v":4.03},{"i":109,"o":2902.8,"h":2947.7,"l":2866.4,"c":2871.2,"v":4.37},
{"i":110,"o":2899.2,"h":2911.3,"l":2895.5,"c":2905.2,"v":4.37},{"i":111,"o":2939.2,"h":3063.1,"l":2929.6,"c":3029.1,"v":7.83},{"i":112,"o":3065.6,"h":3117.8,"l":3017.0,"c":3072.9,"v":5.17},{"i":113,"o":3117.8,"h":3182.2,"l":3111.7,"c":3138.4,"v":6.98},{"i":114,"o":3182.2,"h":3211.3,"l":3126.3,"c":3157.9,"v":6.69},{"i":115,"o":3148.2,"h":3187.0,"l":3142.1,"c":3174.9,"v":4.32},{"i":116,"o":3218.6,"h":3409.3,"l":3214.9,"c":3405.7,"v":9.64},{"i":117,"o":3403.2,"h":3470.0,"l":3397.2,"c":3466.4,"v":7.53},{"i":118,"o":3512.5,"h":3587.9,"l":3400.8,"c":3405.7,"v":9.94},{"i":119,"o":3352.2,"h":3427.5,"l":3300.0,"c":3303.6,"v":6.48},
{"i":120,"o":3251.4,"h":3300.0,"l":3245.3,"c":3291.5,"v":4.96},{"i":121,"o":3279.3,"h":3400.8,"l":3272.1,"c":3381.3,"v":4.24},{"i":122,"o":3381.3,"h":3397.2,"l":3320.6,"c":3327.9,"v":4.96},{"i":123,"o":3300.0,"h":3409.3,"l":3293.9,"c":3381.3,"v":3.19},{"i":124,"o":3366.8,"h":3376.5,"l":3340.0,"c":3344.9,"v":4.66},{"i":125,"o":3376.5,"h":3449.4,"l":3344.9,"c":3417.8,"v":3.82}
],
"p9843":[
{"i":0,"o":3053.9,"h":3065.2,"l":2944.9,"c":2959.6,"v":3.25},{"i":1,"o":2903.4,"h":2930.3,"l":2866.3,"c":2907.9,"v":3.49},{"i":2,"o":2933.7,"h":2933.7,"l":2791.0,"c":2802.2,"v":3.04},{"i":3,"o":2851.7,"h":2877.5,"l":2826.9,"c":2862.9,"v":2.83},{"i":4,"o":2761.8,"h":2880.9,"l":2753.9,"c":2869.7,"v":3.13},{"i":5,"o":2855.1,"h":2860.7,"l":2779.8,"c":2784.3,"v":3.34},{"i":6,"o":2815.7,"h":2832.6,"l":2810.1,"c":2824.7,"v":2.29},{"i":7,"o":2757.3,"h":2791.0,"l":2720.2,"c":2737.1,"v":3.10},{"i":8,"o":2641.6,"h":2720.2,"l":2636.0,"c":2716.9,"v":2.74},{"i":9,"o":2750.6,"h":2759.6,"l":2705.6,"c":2714.6,"v":1.78},
{"i":10,"o":2731.5,"h":2821.3,"l":2728.1,"c":2818.0,"v":3.04},{"i":11,"o":2782.0,"h":2829.2,"l":2779.8,"c":2827.0,"v":2.68},{"i":12,"o":2742.7,"h":2761.8,"l":2667.4,"c":2669.7,"v":3.43},{"i":13,"o":2705.6,"h":2712.4,"l":2591.0,"c":2602.2,"v":4.14},{"i":14,"o":2671.9,"h":2678.7,"l":2636.0,"c":2644.9,"v":3.10},{"i":15,"o":2633.7,"h":2667.4,"l":2630.3,"c":2664.0,"v":3.04},{"i":16,"o":2660.7,"h":2667.4,"l":2600.0,"c":2611.2,"v":2.83},{"i":17,"o":2652.8,"h":2656.2,"l":2622.5,"c":2624.7,"v":3.49},{"i":18,"o":2574.2,"h":2582.0,"l":2529.2,"c":2543.8,"v":4.62},{"i":19,"o":2562.9,"h":2570.8,"l":2478.7,"c":2517.0,"v":3.90},
{"i":20,"o":2562.9,"h":2579.8,"l":2498.9,"c":2525.8,"v":3.84},{"i":21,"o":2514.6,"h":2534.8,"l":2492.1,"c":2506.7,"v":3.31},{"i":22,"o":2469.7,"h":2473.0,"l":2377.5,"c":2379.8,"v":8.32},{"i":23,"o":2359.6,"h":2383.1,"l":2343.8,"c":2368.5,"v":4.89},{"i":24,"o":2366.3,"h":2377.5,"l":2338.2,"c":2357.3,"v":3.43},{"i":25,"o":2383.1,"h":2442.7,"l":2375.3,"c":2435.9,"v":5.13},{"i":26,"o":2447.2,"h":2514.6,"l":2442.7,"c":2487.6,"v":6.83},{"i":27,"o":2469.7,"h":2473.0,"l":2413.5,"c":2420.2,"v":4.02},{"i":28,"o":2402.2,"h":2413.5,"l":2394.4,"c":2409.0,"v":2.80},{"i":29,"o":2377.5,"h":2394.4,"l":2364.0,"c":2391.0,"v":2.80},
{"i":30,"o":2424.7,"h":2506.7,"l":2420.2,"c":2503.4,"v":3.84},{"i":31,"o":2503.4,"h":2568.5,"l":2498.9,"c":2555.1,"v":4.92},{"i":32,"o":2546.1,"h":2568.5,"l":2518.0,"c":2521.3,"v":4.14},{"i":33,"o":2557.3,"h":2562.9,"l":2523.6,"c":2525.8,"v":2.68},{"i":34,"o":2540.4,"h":2546.1,"l":2439.3,"c":2445.0,"v":3.60},{"i":35,"o":2424.7,"h":2431.5,"l":2379.8,"c":2383.1,"v":6.02},{"i":36,"o":2352.8,"h":2360.7,"l":2307.9,"c":2312.4,"v":5.10},{"i":37,"o":2310.1,"h":2321.3,"l":2293.3,"c":2298.9,"v":3.40},{"i":38,"o":2276.4,"h":2282.0,"l":2265.2,"c":2267.4,"v":2.95},{"i":39,"o":2289.9,"h":2327.0,"l":2282.0,"c":2319.1,"v":2.71},
{"i":40,"o":2267.4,"h":2276.4,"l":2214.6,"c":2218.0,"v":4.62},{"i":41,"o":2289.9,"h":2312.4,"l":2254.0,"c":2265.2,"v":4.23},{"i":42,"o":2248.3,"h":2282.0,"l":2242.7,"c":2254.0,"v":4.83},{"i":43,"o":2293.3,"h":2310.1,"l":2222.5,"c":2248.3,"v":3.78},{"i":44,"o":2237.1,"h":2377.5,"l":2233.7,"c":2364.0,"v":8.20},{"i":45,"o":2312.4,"h":2360.7,"l":2307.9,"c":2338.2,"v":4.23},{"i":46,"o":2327.0,"h":2360.7,"l":2289.9,"c":2298.9,"v":9.46},{"i":47,"o":2289.9,"h":2332.6,"l":2259.6,"c":2265.2,"v":6.02},{"i":48,"o":2338.2,"h":2422.5,"l":2248.3,"c":2416.9,"v":11.01},{"i":49,"o":2413.5,"h":2445.0,"l":2386.5,"c":2431.5,"v":4.53},
{"i":50,"o":2436.0,"h":2453.9,"l":2388.8,"c":2431.5,"v":4.92},{"i":51,"o":2458.4,"h":2525.8,"l":2450.6,"c":2506.7,"v":4.53},{"i":52,"o":2473.0,"h":2529.2,"l":2442.7,"c":2510.1,"v":3.04},{"i":53,"o":2498.9,"h":2574.2,"l":2495.5,"c":2568.5,"v":3.49},{"i":54,"o":2548.3,"h":2591.0,"l":2510.1,"c":2514.6,"v":3.49},{"i":55,"o":2484.3,"h":2506.7,"l":2447.2,"c":2495.5,"v":2.65},{"i":56,"o":2503.4,"h":2534.8,"l":2476.4,"c":2523.6,"v":2.53},{"i":57,"o":2548.3,"h":2574.2,"l":2529.2,"c":2537.1,"v":2.71},{"i":58,"o":2525.8,"h":2658.4,"l":2514.6,"c":2619.1,"v":5.37},{"i":59,"o":2591.0,"h":2600.0,"l":2523.6,"c":2537.1,"v":2.71},
{"i":60,"o":2501.1,"h":2624.7,"l":2456.2,"c":2619.1,"v":3.60},{"i":61,"o":2619.1,"h":2669.7,"l":2607.9,"c":2647.2,"v":5.78},{"i":62,"o":2624.7,"h":2787.6,"l":2622.5,"c":2739.3,"v":4.68},{"i":63,"o":2739.3,"h":2748.3,"l":2649.4,"c":2656.2,"v":2.83},{"i":64,"o":2757.3,"h":2770.8,"l":2633.7,"c":2641.6,"v":3.25},{"i":65,"o":2635.9,"h":2725.8,"l":2630.3,"c":2703.4,"v":2.41},{"i":66,"o":2703.4,"h":2716.9,"l":2697.8,"c":2709.0,"v":2.29},{"i":67,"o":2680.9,"h":2748.3,"l":2664.0,"c":2667.4,"v":2.95},{"i":68,"o":2694.4,"h":2701.1,"l":2664.0,"c":2680.9,"v":2.68},{"i":69,"o":2644.9,"h":2649.4,"l":2602.2,"c":2604.5,"v":2.95},
{"i":70,"o":2613.5,"h":2619.1,"l":2570.8,"c":2577.5,"v":2.35},{"i":71,"o":2585.4,"h":2600.0,"l":2579.8,"c":2591.0,"v":3.78},{"i":72,"o":2537.1,"h":2555.1,"l":2456.2,"c":2461.8,"v":5.43},{"i":73,"o":2439.3,"h":2442.7,"l":2334.8,"c":2357.3,"v":3.10},{"i":74,"o":2341.6,"h":2355.1,"l":2332.6,"c":2338.2,"v":4.08},{"i":75,"o":2301.1,"h":2386.5,"l":2267.4,"c":2379.8,"v":3.31},{"i":76,"o":2394.4,"h":2411.2,"l":2388.8,"c":2400.0,"v":2.53},{"i":77,"o":2349.4,"h":2405.6,"l":2341.6,"c":2397.8,"v":3.25},{"i":78,"o":2400.0,"h":2458.4,"l":2346.1,"c":2442.7,"v":2.80},{"i":79,"o":2383.1,"h":2489.9,"l":2379.8,"c":2484.3,"v":3.78},
{"i":80,"o":2461.8,"h":2467.4,"l":2338.2,"c":2416.9,"v":4.11},{"i":81,"o":2368.5,"h":2379.8,"l":2298.9,"c":2312.4,"v":3.04},{"i":82,"o":2349.4,"h":2366.3,"l":2343.8,"c":2355.1,"v":2.95},{"i":83,"o":2456.2,"h":2458.4,"l":2334.8,"c":2338.2,"v":2.14},{"i":84,"o":2332.6,"h":2383.1,"l":2330.3,"c":2375.3,"v":3.19},{"i":85,"o":2357.3,"h":2473.0,"l":2355.1,"c":2467.4,"v":3.49},{"i":86,"o":2461.8,"h":2501.1,"l":2422.5,"c":2431.5,"v":2.83},{"i":87,"o":2439.3,"h":2456.2,"l":2416.9,"c":2428.1,"v":2.80},{"i":88,"o":2422.5,"h":2428.1,"l":2375.3,"c":2377.5,"v":2.11},{"i":89,"o":2431.5,"h":2436.0,"l":2388.8,"c":2394.4,"v":2.95},
{"i":90,"o":2405.6,"h":2495.5,"l":2402.2,"c":2456.2,"v":3.49},{"i":91,"o":2456.2,"h":2461.8,"l":2405.6,"c":2411.2,"v":2.08},{"i":92,"o":2391.0,"h":2420.2,"l":2386.5,"c":2413.5,"v":3.25},{"i":93,"o":2420.2,"h":2506.7,"l":2411.2,"c":2424.7,"v":2.83},{"i":94,"o":2476.4,"h":2518.0,"l":2450.6,"c":2456.2,"v":4.08},{"i":95,"o":2411.2,"h":2416.9,"l":2377.5,"c":2383.1,"v":3.04},{"i":96,"o":2355.1,"h":2416.9,"l":2349.4,"c":2413.5,"v":2.44},{"i":97,"o":2357.3,"h":2416.9,"l":2332.6,"c":2405.6,"v":3.10},{"i":98,"o":2405.6,"h":2525.8,"l":2402.2,"c":2521.3,"v":3.43},{"i":99,"o":2562.9,"h":2627.0,"l":2529.2,"c":2622.5,"v":5.13},
{"i":100,"o":2658.4,"h":2768.5,"l":2636.0,"c":2731.5,"v":3.49},{"i":101,"o":2705.6,"h":2714.6,"l":2630.3,"c":2652.8,"v":3.55},{"i":102,"o":2534.8,"h":2579.8,"l":2521.3,"c":2540.4,"v":7.07},{"i":103,"o":2600.0,"h":2658.4,"l":2593.3,"c":2641.6,"v":4.92},{"i":104,"o":2660.7,"h":2705.6,"l":2607.9,"c":2624.7,"v":4.38},{"i":105,"o":2627.0,"h":2630.3,"l":2579.8,"c":2613.5,"v":4.08},{"i":106,"o":2636.0,"h":2753.9,"l":2624.7,"c":2748.3,"v":4.98},{"i":107,"o":2716.9,"h":2829.2,"l":2709.0,"c":2824.7,"v":5.10},{"i":108,"o":3004.5,"h":3128.1,"l":2997.8,"c":3098.9,"v":7.22},{"i":109,"o":3042.7,"h":3057.3,"l":2933.7,"c":2941.6,"v":4.53},
{"i":110,"o":2948.3,"h":2975.3,"l":2933.7,"c":2970.8,"v":4.47},{"i":111,"o":2922.5,"h":2989.9,"l":2914.6,"c":2984.3,"v":4.29},{"i":112,"o":2970.8,"h":2975.3,"l":2911.2,"c":2914.6,"v":2.29},{"i":113,"o":2905.6,"h":2930.3,"l":2855.1,"c":2903.4,"v":3.19},{"i":114,"o":2941.6,"h":2948.3,"l":2869.7,"c":2905.6,"v":2.68},{"i":115,"o":3001.1,"h":3071.9,"l":2970.8,"c":3053.9,"v":4.32},{"i":116,"o":3034.8,"h":3071.9,"l":3015.7,"c":3046.1,"v":2.29},{"i":117,"o":3053.9,"h":3085.4,"l":3015.7,"c":3068.5,"v":2.44},{"i":118,"o":3068.5,"h":3091.0,"l":3060.7,"c":3074.2,"v":2.14},{"i":119,"o":3046.1,"h":3053.9,"l":3012.4,"c":3027.0,"v":1.84},
{"i":120,"o":3046.1,"h":3102.2,"l":3038.2,"c":3065.2,"v":2.74},{"i":121,"o":3027.0,"h":3074.2,"l":3018.0,"c":3068.5,"v":2.35},{"i":122,"o":3060.7,"h":3074.2,"l":3018.0,"c":3049.4,"v":3.10},{"i":123,"o":3053.9,"h":3068.5,"l":3012.4,"c":3029.2,"v":1.69},{"i":124,"o":3015.7,"h":3034.8,"l":2973.0,"c":3023.6,"v":3.13},{"i":125,"o":3200.0,"h":3287.6,"l":3152.8,"c":3274.2,"v":6.11}
]
},
"vconcat":[
{"spacing":4,"vconcat":[
{"width":854,"height":406,"data":{"name":"p8544"},
"title":{"text":"8544 - P: 京葉銀行","anchor":"middle","frame":"group","offset":-64,"dx":-42,"baseline":"middle"},
"encoding":{"x":{"field":"i","type":"quantitative","scale":{"domain":[-0.32,125.54],"nice":false,"zero":false},"axis":{"values":[0,20,40,60,80,100,120],"labels":false,"ticks":false,"title":null,"grid":true}}},
"layer":[
{"mark":{"type":"rule","strokeWidth":1},"encoding":{"y":{"field":"l","type":"quantitative","scale":{"domain":[1822,2980],"nice":false,"zero":false},"axis":{"orient":"right","values":[2000,2200,2400,2600,2800],"format":"d","title":"価格","titleFont":"Noto Sans CJK JP","titleFontSize":11,"titleAngle":270,"titlePadding":8,"grid":true}},"y2":{"field":"h"},"color":{"condition":{"test":"datum.c >= datum.o","value":"#d43a3a"},"value":"#3d93e6"}}},
{"mark":{"type":"bar","size":3.2,"strokeWidth":0.8},"encoding":{"y":{"field":"o","type":"quantitative"},"y2":{"field":"c"},"color":{"condition":{"test":"datum.c >= datum.o","value":"#d02f2f"},"value":"#1e88e5"},"stroke":{"condition":{"test":"datum.c >= datum.o","value":"#d02f2f"},"value":"#1e88e5"}}},
{"transform":[{"window":[{"op":"mean","field":"c","as":"m"},{"op":"count","as":"n"}],"frame":[-4,0],"sort":[{"field":"i"}]},{"filter":"datum.n >= 5"}],"mark":{"type":"line","color":"#1f77b4","strokeWidth":1.1},"encoding":{"y":{"field":"m","type":"quantitative"}}},
{"transform":[{"window":[{"op":"mean","field":"c","as":"m"},{"op":"count","as":"n"}],"frame":[-19,0],"sort":[{"field":"i"}]},{"filter":"datum.n >= 20"}],"mark":{"type":"line","color":"#ff7f0e","strokeWidth":1.1},"encoding":{"y":{"field":"m","type":"quantitative"}}},
{"transform":[{"window":[{"op":"mean","field":"c","as":"m"},{"op":"count","as":"n"}],"frame":[-59,0],"sort":[{"field":"i"}]},{"filter":"datum.n >= 60"}],"mark":{"type":"line","color":"#2ca02c","strokeWidth":1.1},"encoding":{"y":{"field":"m","type":"quantitative"}}}
]},
{"width":854,"height":157,"data":{"name":"p8544"},
"mark":{"type":"bar","size":6.2,"strokeWidth":0.6,"clip":true},
"encoding":{"x":{"field":"i","type":"quantitative","scale":{"domain":[-0.32,125.54],"nice":false,"zero":false},"axis":{"values":[0,20,40,60,80,100,120],"labelExpr":"['Mar 03','Apr 01','Apr 30','Jun 02','Jun 30','Jul 29','Aug 27'][round(datum.value/20)]","labelAngle":-45,"labelAlign":"center","labelBaseline":"middle","labelPadding":22,"labelFontSize":13,"title":null,"grid":true}},
"y":{"field":"v","type":"quantitative","scale":{"domain":[0.05,1.54],"nice":false,"zero":false},"axis":{"orient":"right","values":[0.5,1.0,1.5],"format":".1f","title":"Volume  10⁶","titleFontSize":13,"titleAngle":270,"titlePadding":6}},
"color":{"condition":{"test":"datum.c >= datum.o","value":"#d02f2f"},"value":"#1e88e5"},
"stroke":{"condition":{"test":"datum.c >= datum.o","value":"#a82525"},"value":"#1766b5"}}}
]},
{"spacing":4,"vconcat":[
{"width":854,"height":406,"data":{"name":"p8550"},
"title":{"text":"8550 - P: 栃木銀行","anchor":"middle","frame":"group","offset":-65,"dx":-42,"baseline":"middle"},
"encoding":{"x":{"field":"i","type":"quantitative","scale":{"domain":[-0.32,125.54],"nice":false,"zero":false},"axis":{"values":[0,20,40,60,80,100,120],"labels":false,"ticks":false,"title":null,"grid":true}}},
"layer":[
{"mark":{"type":"rule","strokeWidth":1},"encoding":{"y":{"field":"l","type":"quantitative","scale":{"domain":[808.2,1147.5],"nice":false,"zero":false},"axis":{"orient":"right","values":[850,900,950,1000,1050,1100],"format":"d","title":"価格","titleFont":"Noto Sans CJK JP","titleFontSize":11,"titleAngle":270,"titlePadding":8,"grid":true}},"y2":{"field":"h"},"color":{"condition":{"test":"datum.c >= datum.o","value":"#d43a3a"},"value":"#3d93e6"}}},
{"mark":{"type":"bar","size":3.2,"strokeWidth":0.8},"encoding":{"y":{"field":"o","type":"quantitative"},"y2":{"field":"c"},"color":{"condition":{"test":"datum.c >= datum.o","value":"#d02f2f"},"value":"#1e88e5"},"stroke":{"condition":{"test":"datum.c >= datum.o","value":"#d02f2f"},"value":"#1e88e5"}}},
{"transform":[{"window":[{"op":"mean","field":"c","as":"m"},{"op":"count","as":"n"}],"frame":[-4,0],"sort":[{"field":"i"}]},{"filter":"datum.n >= 5"}],"mark":{"type":"line","color":"#1f77b4","strokeWidth":1.1},"encoding":{"y":{"field":"m","type":"quantitative"}}},
{"transform":[{"window":[{"op":"mean","field":"c","as":"m"},{"op":"count","as":"n"}],"frame":[-19,0],"sort":[{"field":"i"}]},{"filter":"datum.n >= 20"}],"mark":{"type":"line","color":"#ff7f0e","strokeWidth":1.1},"encoding":{"y":{"field":"m","type":"quantitative"}}},
{"transform":[{"window":[{"op":"mean","field":"c","as":"m"},{"op":"count","as":"n"}],"frame":[-59,0],"sort":[{"field":"i"}]},{"filter":"datum.n >= 60"}],"mark":{"type":"line","color":"#2ca02c","strokeWidth":1.1},"encoding":{"y":{"field":"m","type":"quantitative"}}}
]},
{"width":854,"height":157,"data":{"name":"p8550"},
"mark":{"type":"bar","size":6.2,"strokeWidth":0.6,"clip":true},
"encoding":{"x":{"field":"i","type":"quantitative","scale":{"domain":[-0.32,125.54],"nice":false,"zero":false},"axis":{"values":[0,20,40,60,80,100,120],"labelExpr":"['Mar 03','Apr 01','Apr 30','Jun 02','Jun 30','Jul 29','Aug 27'][round(datum.value/20)]","labelAngle":-45,"labelAlign":"center","labelBaseline":"middle","labelPadding":22,"labelFontSize":13,"title":null,"grid":true}},
"y":{"field":"v","type":"quantitative","scale":{"domain":[0.106,1.87],"nice":false,"zero":false},"axis":{"orient":"right","values":[0.5,1.0,1.5],"format":".1f","title":"Volume  10⁶","titleFontSize":13,"titleAngle":270,"titlePadding":6}},
"color":{"condition":{"test":"datum.c >= datum.o","value":"#d02f2f"},"value":"#1e88e5"},
"stroke":{"condition":{"test":"datum.c >= datum.o","value":"#a82525"},"value":"#1766b5"}}}
]},
{"spacing":4,"vconcat":[
{"width":862,"height":407,"data":{"name":"p8729"},
"title":{"text":"8729 - P: ソニーフィナンシャルグループ","anchor":"middle","frame":"group","offset":-62,"dx":-43,"baseline":"middle"},
"encoding":{"x":{"field":"i","type":"quantitative","scale":{"domain":[-0.32,125.44],"nice":false,"zero":false},"axis":{"values":[0,20,40,60,80,100,120],"labels":false,"ticks":false,"title":null,"grid":true}}},
"layer":[
{"mark":{"type":"rule","strokeWidth":1},"encoding":{"y":{"field":"l","type":"quantitative","scale":{"domain":[129.1,166.6],"nice":false,"zero":false},"axis":{"orient":"right","values":[130,135,140,145,150,155,160,165],"format":"d","title":"価格","titleFont":"Noto Sans CJK JP","titleFontSize":11,"titleAngle":270,"titlePadding":8,"grid":true}},"y2":{"field":"h"},"color":{"condition":{"test":"datum.c >= datum.o","value":"#d43a3a"},"value":"#3d93e6"}}},
{"mark":{"type":"bar","size":3.2,"strokeWidth":0.8},"encoding":{"y":{"field":"o","type":"quantitative"},"y2":{"field":"c"},"color":{"condition":{"test":"datum.c >= datum.o","value":"#d02f2f"},"value":"#1e88e5"},"stroke":{"condition":{"test":"datum.c >= datum.o","value":"#d02f2f"},"value":"#1e88e5"}}},
{"transform":[{"window":[{"op":"mean","field":"c","as":"m"},{"op":"count","as":"n"}],"frame":[-4,0],"sort":[{"field":"i"}]},{"filter":"datum.n >= 5"}],"mark":{"type":"line","color":"#1f77b4","strokeWidth":1.1},"encoding":{"y":{"field":"m","type":"quantitative"}}},
{"transform":[{"window":[{"op":"mean","field":"c","as":"m"},{"op":"count","as":"n"}],"frame":[-19,0],"sort":[{"field":"i"}]},{"filter":"datum.n >= 20"}],"mark":{"type":"line","color":"#ff7f0e","strokeWidth":1.1},"encoding":{"y":{"field":"m","type":"quantitative"}}},
{"transform":[{"window":[{"op":"mean","field":"c","as":"m"},{"op":"count","as":"n"}],"frame":[-59,0],"sort":[{"field":"i"}]},{"filter":"datum.n >= 60"}],"mark":{"type":"line","color":"#2ca02c","strokeWidth":1.1},"encoding":{"y":{"field":"m","type":"quantitative"}}}
]},
{"width":862,"height":162,"data":{"name":"p8729"},
"mark":{"type":"bar","size":6.2,"strokeWidth":0.6,"clip":true},
"encoding":{"x":{"field":"i","type":"quantitative","scale":{"domain":[-0.32,125.44],"nice":false,"zero":false},"axis":{"values":[0,20,40,60,80,100,120],"labelExpr":"['Mar 03','Apr 01','Apr 30','Jun 02','Jun 30','Jul 29','Aug 27'][round(datum.value/20)]","labelAngle":-45,"labelAlign":"center","labelBaseline":"middle","labelPadding":22,"labelFontSize":13,"title":null,"grid":true}},
"y":{"field":"v","type":"quantitative","scale":{"domain":[10.8,526],"nice":false,"zero":false},"axis":{"orient":"right","values":[200,400],"format":"d","title":"Volume  10⁶","titleFontSize":13,"titleAngle":270,"titlePadding":6}},
"color":{"condition":{"test":"datum.c >= datum.o","value":"#d02f2f"},"value":"#1e88e5"},
"stroke":{"condition":{"test":"datum.c >= datum.o","value":"#a82525"},"value":"#1766b5"}}}
]},
{"spacing":4,"vconcat":[
{"width":843,"height":398,"data":{"name":"p8850"},
"title":{"text":"8850 - P: スターツコーポレーション","anchor":"middle","frame":"group","offset":-68,"dx":-42,"baseline":"middle"},
"encoding":{"x":{"field":"i","type":"quantitative","scale":{"domain":[-0.37,125.46],"nice":false,"zero":false},"axis":{"values":[0,20,40,60,80,100,120],"labels":false,"ticks":false,"title":null,"grid":true}}},
"layer":[
{"mark":{"type":"rule","strokeWidth":1},"encoding":{"y":{"field":"l","type":"quantitative","scale":{"domain":[4386,5208],"nice":false,"zero":false},"axis":{"orient":"right","values":[4400,4500,4600,4700,4800,4900,5000,5100,5200],"format":"d","title":"価格","titleFont":"Noto Sans CJK JP","titleFontSize":11,"titleAngle":270,"titlePadding":8,"grid":true}},"y2":{"field":"h"},"color":{"condition":{"test":"datum.c >= datum.o","value":"#d43a3a"},"value":"#3d93e6"}}},
{"mark":{"type":"bar","size":3.2,"strokeWidth":0.8},"encoding":{"y":{"field":"o","type":"quantitative"},"y2":{"field":"c"},"color":{"condition":{"test":"datum.c >= datum.o","value":"#d02f2f"},"value":"#1e88e5"},"stroke":{"condition":{"test":"datum.c >= datum.o","value":"#d02f2f"},"value":"#1e88e5"}}},
{"transform":[{"window":[{"op":"mean","field":"c","as":"m"},{"op":"count","as":"n"}],"frame":[-4,0],"sort":[{"field":"i"}]},{"filter":"datum.n >= 5"}],"mark":{"type":"line","color":"#1f77b4","strokeWidth":1.1},"encoding":{"y":{"field":"m","type":"quantitative"}}},
{"transform":[{"window":[{"op":"mean","field":"c","as":"m"},{"op":"count","as":"n"}],"frame":[-19,0],"sort":[{"field":"i"}]},{"filter":"datum.n >= 20"}],"mark":{"type":"line","color":"#ff7f0e","strokeWidth":1.1},"encoding":{"y":{"field":"m","type":"quantitative"}}},
{"transform":[{"window":[{"op":"mean","field":"c","as":"m"},{"op":"count","as":"n"}],"frame":[-59,0],"sort":[{"field":"i"}]},{"filter":"datum.n >= 60"}],"mark":{"type":"line","color":"#2ca02c","strokeWidth":1.1},"encoding":{"y":{"field":"m","type":"quantitative"}}}
]},
{"width":843,"height":158,"data":{"name":"p8850"},
"mark":{"type":"bar","size":6,"strokeWidth":0.6,"clip":true},
"encoding":{"x":{"field":"i","type":"quantitative","scale":{"domain":[-0.37,125.46],"nice":false,"zero":false},"axis":{"values":[0,20,40,60,80,100,120],"labelExpr":"['Mar 03','Apr 01','Apr 30','Jun 02','Jun 30','Jul 29','Aug 27'][round(datum.value/20)]","labelAngle":-45,"labelAlign":"center","labelBaseline":"middle","labelPadding":22,"labelFontSize":13,"title":null,"grid":true}},
"y":{"field":"v","type":"quantitative","scale":{"domain":[8440,259000],"nice":false,"zero":false},"axis":{"orient":"right","values":[100000,200000],"format":"d","title":"Volume","titleFontSize":13,"titleAngle":270,"titlePadding":6}},
"color":{"condition":{"test":"datum.c >= datum.o","value":"#d02f2f"},"value":"#1e88e5"},
"stroke":{"condition":{"test":"datum.c >= datum.o","value":"#a82525"},"value":"#1766b5"}}}
]},
{"spacing":4,"vconcat":[
{"width":854,"height":403,"data":{"name":"p9107"},
"title":{"text":"9107 - ◎P: 川崎汽船","anchor":"middle","frame":"group","offset":-69,"dx":-40,"baseline":"middle"},
"encoding":{"x":{"field":"i","type":"quantitative","scale":{"domain":[-0.32,125.54],"nice":false,"zero":false},"axis":{"values":[0,20,40,60,80,100,120],"labels":false,"ticks":false,"title":null,"grid":true}}},
"layer":[
{"mark":{"type":"rule","strokeWidth":1},"encoding":{"y":{"field":"l","type":"quantitative","scale":{"domain":[2401,3604],"nice":false,"zero":false},"axis":{"orient":"right","values":[2400,2600,2800,3000,3200,3400,3600],"format":"d","title":"価格","titleFont":"Noto Sans CJK JP","titleFontSize":11,"titleAngle":270,"titlePadding":8,"grid":true}},"y2":{"field":"h"},"color":{"condition":{"test":"datum.c >= datum.o","value":"#d43a3a"},"value":"#3d93e6"}}},
{"mark":{"type":"bar","size":3.2,"strokeWidth":0.8},"encoding":{"y":{"field":"o","type":"quantitative"},"y2":{"field":"c"},"color":{"condition":{"test":"datum.c >= datum.o","value":"#d02f2f"},"value":"#1e88e5"},"stroke":{"condition":{"test":"datum.c >= datum.o","value":"#d02f2f"},"value":"#1e88e5"}}},
{"transform":[{"window":[{"op":"mean","field":"c","as":"m"},{"op":"count","as":"n"}],"frame":[-4,0],"sort":[{"field":"i"}]},{"filter":"datum.n >= 5"}],"mark":{"type":"line","color":"#1f77b4","strokeWidth":1.1},"encoding":{"y":{"field":"m","type":"quantitative"}}},
{"transform":[{"window":[{"op":"mean","field":"c","as":"m"},{"op":"count","as":"n"}],"frame":[-19,0],"sort":[{"field":"i"}]},{"filter":"datum.n >= 20"}],"mark":{"type":"line","color":"#ff7f0e","strokeWidth":1.1},"encoding":{"y":{"field":"m","type":"quantitative"}}},
{"transform":[{"window":[{"op":"mean","field":"c","as":"m"},{"op":"count","as":"n"}],"frame":[-59,0],"sort":[{"field":"i"}]},{"filter":"datum.n >= 60"}],"mark":{"type":"line","color":"#2ca02c","strokeWidth":1.1},"encoding":{"y":{"field":"m","type":"quantitative"}}}
]},
{"width":854,"height":159,"data":{"name":"p9107"},
"mark":{"type":"bar","size":6.2,"strokeWidth":0.6,"clip":true},
"encoding":{"x":{"field":"i","type":"quantitative","scale":{"domain":[-0.32,125.54],"nice":false,"zero":false},"axis":{"values":[0,20,40,60,80,100,120],"labelExpr":"['Mar 03','Apr 01','Apr 30','Jun 02','Jun 30','Jul 29','Aug 27'][round(datum.value/20)]","labelAngle":-45,"labelAlign":"center","labelBaseline":"middle","labelPadding":22,"labelFontSize":13,"title":null,"grid":true}},
"y":{"field":"v","type":"quantitative","scale":{"domain":[0.78,17.4],"nice":false,"zero":false},"axis":{"orient":"right","values":[5,10,15],"format":"d","title":"Volume  10⁶","titleFontSize":13,"titleAngle":270,"titlePadding":6}},
"color":{"condition":{"test":"datum.c >= datum.o","value":"#d02f2f"},"value":"#1e88e5"},
"stroke":{"condition":{"test":"datum.c >= datum.o","value":"#a82525"},"value":"#1766b5"}}}
]},
{"spacing":4,"vconcat":[
{"width":854,"height":408,"data":{"name":"p9843"},
"title":{"text":"9843 - P: ニトリホールディングス","anchor":"middle","frame":"group","offset":-64,"dx":-40,"baseline":"middle"},
"encoding":{"x":{"field":"i","type":"quantitative","scale":{"domain":[-0.32,125.54],"nice":false,"zero":false},"axis":{"values":[0,20,40,60,80,100,120],"labels":false,"ticks":false,"title":null,"grid":true}}},
"layer":[
{"mark":{"type":"rule","strokeWidth":1},"encoding":{"y":{"field":"l","type":"quantitative","scale":{"domain":[2207,3301],"nice":false,"zero":false},"axis":{"orient":"right","values":[2400,2600,2800,3000,3200],"format":"d","title":"価格","titleFont":"Noto Sans CJK JP","titleFontSize":11,"titleAngle":270,"titlePadding":8,"grid":true}},"y2":{"field":"h"},"color":{"condition":{"test":"datum.c >= datum.o","value":"#d43a3a"},"value":"#3d93e6"}}},
{"mark":{"type":"bar","size":3.2,"strokeWidth":0.8},"encoding":{"y":{"field":"o","type":"quantitative"},"y2":{"field":"c"},"color":{"condition":{"test":"datum.c >= datum.o","value":"#d02f2f"},"value":"#1e88e5"},"stroke":{"condition":{"test":"datum.c >= datum.o","value":"#d02f2f"},"value":"#1e88e5"}}},
{"transform":[{"window":[{"op":"mean","field":"c","as":"m"},{"op":"count","as":"n"}],"frame":[-4,0],"sort":[{"field":"i"}]},{"filter":"datum.n >= 5"}],"mark":{"type":"line","color":"#1f77b4","strokeWidth":1.1},"encoding":{"y":{"field":"m","type":"quantitative"}}},
{"transform":[{"window":[{"op":"mean","field":"c","as":"m"},{"op":"count","as":"n"}],"frame":[-19,0],"sort":[{"field":"i"}]},{"filter":"datum.n >= 20"}],"mark":{"type":"line","color":"#ff7f0e","strokeWidth":1.1},"encoding":{"y":{"field":"m","type":"quantitative"}}},
{"transform":[{"window":[{"op":"mean","field":"c","as":"m"},{"op":"count","as":"n"}],"frame":[-59,0],"sort":[{"field":"i"}]},{"filter":"datum.n >= 60"}],"mark":{"type":"line","color":"#2ca02c","strokeWidth":1.1},"encoding":{"y":{"field":"m","type":"quantitative"}}}
]},
{"width":854,"height":160,"data":{"name":"p9843"},
"mark":{"type":"bar","size":6.2,"strokeWidth":0.6,"clip":true},
"encoding":{"x":{"field":"i","type":"quantitative","scale":{"domain":[-0.32,125.54],"nice":false,"zero":false},"axis":{"values":[0,20,40,60,80,100,120],"labelExpr":"['Mar 03','Apr 01','Apr 30','Jun 02','Jun 30','Jul 29','Aug 27'][round(datum.value/20)]","labelAngle":-45,"labelAlign":"center","labelBaseline":"middle","labelPadding":22,"labelFontSize":13,"title":null,"grid":true}},
"y":{"field":"v","type":"quantitative","scale":{"domain":[0.5,11.9],"nice":false,"zero":false},"axis":{"orient":"right","values":[2.5,5.0,7.5,10.0],"format":".1f","title":"Volume  10⁶","titleFontSize":13,"titleAngle":270,"titlePadding":6}},
"color":{"condition":{"test":"datum.c >= datum.o","value":"#d02f2f"},"value":"#1e88e5"},
"stroke":{"condition":{"test":"datum.c >= datum.o","value":"#a82525"},"value":"#1766b5"}}}
]}
]
}
